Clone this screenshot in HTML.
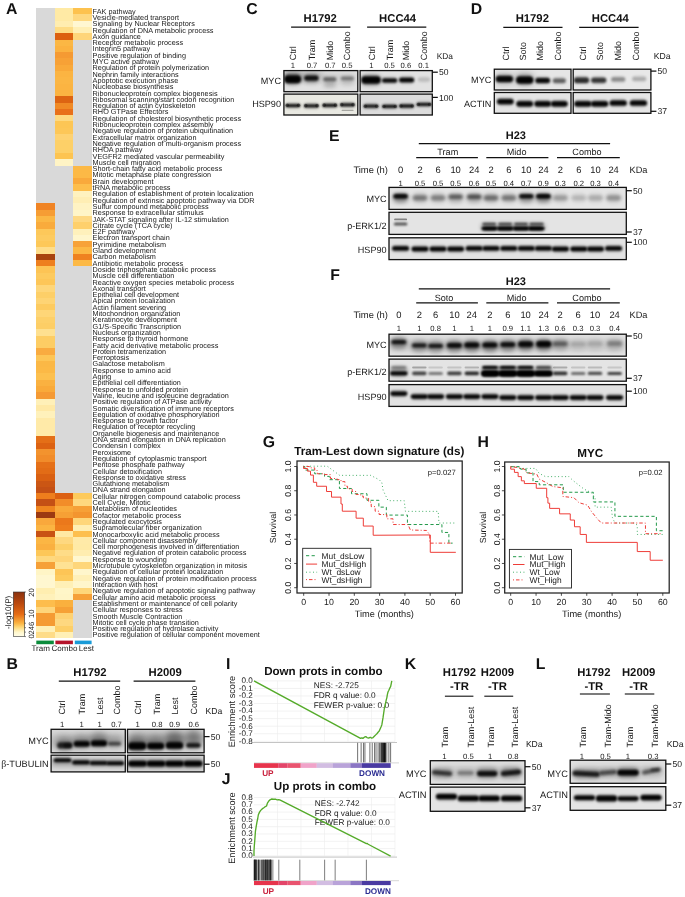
<!DOCTYPE html>
<html><head><meta charset="utf-8"><title>Figure</title>
<style>
html,body{margin:0;padding:0;background:#fff;}
svg{display:block;font-family:'Liberation Sans', Arial, sans-serif;text-rendering:geometricPrecision;}
</style></head>
<body>
<svg width="685" height="897" viewBox="0 0 685 897">
<rect x="0" y="0" width="685" height="897" fill="#ffffff"/>
<g shape-rendering="crispEdges">
<rect x="36.30" y="8.05" width="18.48" height="6.35" fill="#d9d9d9" stroke="none" stroke-width="1"/>
<rect x="54.73" y="8.05" width="18.48" height="6.35" fill="#ffeaa5" stroke="none" stroke-width="1"/>
<rect x="73.17" y="8.05" width="18.48" height="6.35" fill="#fdc24f" stroke="none" stroke-width="1"/>
<rect x="36.30" y="14.35" width="18.48" height="6.35" fill="#d9d9d9" stroke="none" stroke-width="1"/>
<rect x="54.73" y="14.35" width="18.48" height="6.35" fill="#ffeaa5" stroke="none" stroke-width="1"/>
<rect x="73.17" y="14.35" width="18.48" height="6.35" fill="#fed880" stroke="none" stroke-width="1"/>
<rect x="36.30" y="20.65" width="18.48" height="6.35" fill="#d9d9d9" stroke="none" stroke-width="1"/>
<rect x="54.73" y="20.65" width="18.48" height="6.35" fill="#ffedb0" stroke="none" stroke-width="1"/>
<rect x="73.17" y="20.65" width="18.48" height="6.35" fill="#fff7d2" stroke="none" stroke-width="1"/>
<rect x="36.30" y="26.95" width="18.48" height="6.35" fill="#d9d9d9" stroke="none" stroke-width="1"/>
<rect x="54.73" y="26.95" width="18.48" height="6.35" fill="#fedc85" stroke="none" stroke-width="1"/>
<rect x="73.17" y="26.95" width="18.48" height="6.35" fill="#ffefb5" stroke="none" stroke-width="1"/>
<rect x="36.30" y="33.25" width="18.48" height="6.35" fill="#d9d9d9" stroke="none" stroke-width="1"/>
<rect x="54.73" y="33.25" width="18.48" height="6.35" fill="#dc6010" stroke="none" stroke-width="1"/>
<rect x="73.17" y="33.25" width="18.48" height="6.35" fill="#fed57a" stroke="none" stroke-width="1"/>
<rect x="36.30" y="39.55" width="18.48" height="6.35" fill="#d9d9d9" stroke="none" stroke-width="1"/>
<rect x="54.73" y="39.55" width="18.48" height="6.35" fill="#fbb744" stroke="none" stroke-width="1"/>
<rect x="73.17" y="39.55" width="18.48" height="6.35" fill="#d9d9d9" stroke="none" stroke-width="1"/>
<rect x="36.30" y="45.85" width="18.48" height="6.35" fill="#d9d9d9" stroke="none" stroke-width="1"/>
<rect x="54.73" y="45.85" width="18.48" height="6.35" fill="#fbb240" stroke="none" stroke-width="1"/>
<rect x="73.17" y="45.85" width="18.48" height="6.35" fill="#d9d9d9" stroke="none" stroke-width="1"/>
<rect x="36.30" y="52.15" width="18.48" height="6.35" fill="#d9d9d9" stroke="none" stroke-width="1"/>
<rect x="54.73" y="52.15" width="18.48" height="6.35" fill="#f59a33" stroke="none" stroke-width="1"/>
<rect x="73.17" y="52.15" width="18.48" height="6.35" fill="#d9d9d9" stroke="none" stroke-width="1"/>
<rect x="36.30" y="58.45" width="18.48" height="6.35" fill="#d9d9d9" stroke="none" stroke-width="1"/>
<rect x="54.73" y="58.45" width="18.48" height="6.35" fill="#f7a136" stroke="none" stroke-width="1"/>
<rect x="73.17" y="58.45" width="18.48" height="6.35" fill="#d9d9d9" stroke="none" stroke-width="1"/>
<rect x="36.30" y="64.75" width="18.48" height="6.35" fill="#d9d9d9" stroke="none" stroke-width="1"/>
<rect x="54.73" y="64.75" width="18.48" height="6.35" fill="#f9a93a" stroke="none" stroke-width="1"/>
<rect x="73.17" y="64.75" width="18.48" height="6.35" fill="#d9d9d9" stroke="none" stroke-width="1"/>
<rect x="36.30" y="71.06" width="18.48" height="6.35" fill="#d9d9d9" stroke="none" stroke-width="1"/>
<rect x="54.73" y="71.06" width="18.48" height="6.35" fill="#fbb442" stroke="none" stroke-width="1"/>
<rect x="73.17" y="71.06" width="18.48" height="6.35" fill="#d9d9d9" stroke="none" stroke-width="1"/>
<rect x="36.30" y="77.36" width="18.48" height="6.35" fill="#d9d9d9" stroke="none" stroke-width="1"/>
<rect x="54.73" y="77.36" width="18.48" height="6.35" fill="#fbb644" stroke="none" stroke-width="1"/>
<rect x="73.17" y="77.36" width="18.48" height="6.35" fill="#d9d9d9" stroke="none" stroke-width="1"/>
<rect x="36.30" y="83.66" width="18.48" height="6.35" fill="#d9d9d9" stroke="none" stroke-width="1"/>
<rect x="54.73" y="83.66" width="18.48" height="6.35" fill="#fbb442" stroke="none" stroke-width="1"/>
<rect x="73.17" y="83.66" width="18.48" height="6.35" fill="#d9d9d9" stroke="none" stroke-width="1"/>
<rect x="36.30" y="89.96" width="18.48" height="6.35" fill="#d9d9d9" stroke="none" stroke-width="1"/>
<rect x="54.73" y="89.96" width="18.48" height="6.35" fill="#fbb442" stroke="none" stroke-width="1"/>
<rect x="73.17" y="89.96" width="18.48" height="6.35" fill="#d9d9d9" stroke="none" stroke-width="1"/>
<rect x="36.30" y="96.26" width="18.48" height="6.35" fill="#d9d9d9" stroke="none" stroke-width="1"/>
<rect x="54.73" y="96.26" width="18.48" height="6.35" fill="#dd6412" stroke="none" stroke-width="1"/>
<rect x="73.17" y="96.26" width="18.48" height="6.35" fill="#d9d9d9" stroke="none" stroke-width="1"/>
<rect x="36.30" y="102.56" width="18.48" height="6.35" fill="#d9d9d9" stroke="none" stroke-width="1"/>
<rect x="54.73" y="102.56" width="18.48" height="6.35" fill="#f08a25" stroke="none" stroke-width="1"/>
<rect x="73.17" y="102.56" width="18.48" height="6.35" fill="#d9d9d9" stroke="none" stroke-width="1"/>
<rect x="36.30" y="108.86" width="18.48" height="6.35" fill="#d9d9d9" stroke="none" stroke-width="1"/>
<rect x="54.73" y="108.86" width="18.48" height="6.35" fill="#e8701a" stroke="none" stroke-width="1"/>
<rect x="73.17" y="108.86" width="18.48" height="6.35" fill="#d9d9d9" stroke="none" stroke-width="1"/>
<rect x="36.30" y="115.16" width="18.48" height="6.35" fill="#d9d9d9" stroke="none" stroke-width="1"/>
<rect x="54.73" y="115.16" width="18.48" height="6.35" fill="#fed980" stroke="none" stroke-width="1"/>
<rect x="73.17" y="115.16" width="18.48" height="6.35" fill="#d9d9d9" stroke="none" stroke-width="1"/>
<rect x="36.30" y="121.46" width="18.48" height="6.35" fill="#d9d9d9" stroke="none" stroke-width="1"/>
<rect x="54.73" y="121.46" width="18.48" height="6.35" fill="#fdc655" stroke="none" stroke-width="1"/>
<rect x="73.17" y="121.46" width="18.48" height="6.35" fill="#d9d9d9" stroke="none" stroke-width="1"/>
<rect x="36.30" y="127.76" width="18.48" height="6.35" fill="#d9d9d9" stroke="none" stroke-width="1"/>
<rect x="54.73" y="127.76" width="18.48" height="6.35" fill="#fdc758" stroke="none" stroke-width="1"/>
<rect x="73.17" y="127.76" width="18.48" height="6.35" fill="#d9d9d9" stroke="none" stroke-width="1"/>
<rect x="36.30" y="134.06" width="18.48" height="6.35" fill="#d9d9d9" stroke="none" stroke-width="1"/>
<rect x="54.73" y="134.06" width="18.48" height="6.35" fill="#fed272" stroke="none" stroke-width="1"/>
<rect x="73.17" y="134.06" width="18.48" height="6.35" fill="#d9d9d9" stroke="none" stroke-width="1"/>
<rect x="36.30" y="140.36" width="18.48" height="6.35" fill="#d9d9d9" stroke="none" stroke-width="1"/>
<rect x="54.73" y="140.36" width="18.48" height="6.35" fill="#fdd068" stroke="none" stroke-width="1"/>
<rect x="73.17" y="140.36" width="18.48" height="6.35" fill="#d9d9d9" stroke="none" stroke-width="1"/>
<rect x="36.30" y="146.66" width="18.48" height="6.35" fill="#d9d9d9" stroke="none" stroke-width="1"/>
<rect x="54.73" y="146.66" width="18.48" height="6.35" fill="#fdd068" stroke="none" stroke-width="1"/>
<rect x="73.17" y="146.66" width="18.48" height="6.35" fill="#d9d9d9" stroke="none" stroke-width="1"/>
<rect x="36.30" y="152.96" width="18.48" height="6.35" fill="#d9d9d9" stroke="none" stroke-width="1"/>
<rect x="54.73" y="152.96" width="18.48" height="6.35" fill="#fdc451" stroke="none" stroke-width="1"/>
<rect x="73.17" y="152.96" width="18.48" height="6.35" fill="#d9d9d9" stroke="none" stroke-width="1"/>
<rect x="36.30" y="159.26" width="18.48" height="6.35" fill="#d9d9d9" stroke="none" stroke-width="1"/>
<rect x="54.73" y="159.26" width="18.48" height="6.35" fill="#fff4c5" stroke="none" stroke-width="1"/>
<rect x="73.17" y="159.26" width="18.48" height="6.35" fill="#d9d9d9" stroke="none" stroke-width="1"/>
<rect x="36.30" y="165.56" width="18.48" height="6.35" fill="#d9d9d9" stroke="none" stroke-width="1"/>
<rect x="54.73" y="165.56" width="18.48" height="6.35" fill="#d9d9d9" stroke="none" stroke-width="1"/>
<rect x="73.17" y="165.56" width="18.48" height="6.35" fill="#fcb946" stroke="none" stroke-width="1"/>
<rect x="36.30" y="171.86" width="18.48" height="6.35" fill="#d9d9d9" stroke="none" stroke-width="1"/>
<rect x="54.73" y="171.86" width="18.48" height="6.35" fill="#d9d9d9" stroke="none" stroke-width="1"/>
<rect x="73.17" y="171.86" width="18.48" height="6.35" fill="#fcb946" stroke="none" stroke-width="1"/>
<rect x="36.30" y="178.16" width="18.48" height="6.35" fill="#d9d9d9" stroke="none" stroke-width="1"/>
<rect x="54.73" y="178.16" width="18.48" height="6.35" fill="#d9d9d9" stroke="none" stroke-width="1"/>
<rect x="73.17" y="178.16" width="18.48" height="6.35" fill="#f9a93c" stroke="none" stroke-width="1"/>
<rect x="36.30" y="184.46" width="18.48" height="6.35" fill="#d9d9d9" stroke="none" stroke-width="1"/>
<rect x="54.73" y="184.46" width="18.48" height="6.35" fill="#d9d9d9" stroke="none" stroke-width="1"/>
<rect x="73.17" y="184.46" width="18.48" height="6.35" fill="#fdbe4c" stroke="none" stroke-width="1"/>
<rect x="36.30" y="190.76" width="18.48" height="6.35" fill="#d9d9d9" stroke="none" stroke-width="1"/>
<rect x="54.73" y="190.76" width="18.48" height="6.35" fill="#d9d9d9" stroke="none" stroke-width="1"/>
<rect x="73.17" y="190.76" width="18.48" height="6.35" fill="#fff2bf" stroke="none" stroke-width="1"/>
<rect x="36.30" y="197.07" width="18.48" height="6.35" fill="#d9d9d9" stroke="none" stroke-width="1"/>
<rect x="54.73" y="197.07" width="18.48" height="6.35" fill="#d9d9d9" stroke="none" stroke-width="1"/>
<rect x="73.17" y="197.07" width="18.48" height="6.35" fill="#ffeeb4" stroke="none" stroke-width="1"/>
<rect x="36.30" y="203.37" width="18.48" height="6.35" fill="#f08424" stroke="none" stroke-width="1"/>
<rect x="54.73" y="203.37" width="18.48" height="6.35" fill="#d9d9d9" stroke="none" stroke-width="1"/>
<rect x="73.17" y="203.37" width="18.48" height="6.35" fill="#fff3c3" stroke="none" stroke-width="1"/>
<rect x="36.30" y="209.67" width="18.48" height="6.35" fill="#f69d34" stroke="none" stroke-width="1"/>
<rect x="54.73" y="209.67" width="18.48" height="6.35" fill="#d9d9d9" stroke="none" stroke-width="1"/>
<rect x="73.17" y="209.67" width="18.48" height="6.35" fill="#fff5c8" stroke="none" stroke-width="1"/>
<rect x="36.30" y="215.97" width="18.48" height="6.35" fill="#fbb744" stroke="none" stroke-width="1"/>
<rect x="54.73" y="215.97" width="18.48" height="6.35" fill="#d9d9d9" stroke="none" stroke-width="1"/>
<rect x="73.17" y="215.97" width="18.48" height="6.35" fill="#fed984" stroke="none" stroke-width="1"/>
<rect x="36.30" y="222.27" width="18.48" height="6.35" fill="#f9ab3c" stroke="none" stroke-width="1"/>
<rect x="54.73" y="222.27" width="18.48" height="6.35" fill="#d9d9d9" stroke="none" stroke-width="1"/>
<rect x="73.17" y="222.27" width="18.48" height="6.35" fill="#fed06c" stroke="none" stroke-width="1"/>
<rect x="36.30" y="228.57" width="18.48" height="6.35" fill="#fdc85a" stroke="none" stroke-width="1"/>
<rect x="54.73" y="228.57" width="18.48" height="6.35" fill="#d9d9d9" stroke="none" stroke-width="1"/>
<rect x="73.17" y="228.57" width="18.48" height="6.35" fill="#fff1bc" stroke="none" stroke-width="1"/>
<rect x="36.30" y="234.87" width="18.48" height="6.35" fill="#fdcb60" stroke="none" stroke-width="1"/>
<rect x="54.73" y="234.87" width="18.48" height="6.35" fill="#d9d9d9" stroke="none" stroke-width="1"/>
<rect x="73.17" y="234.87" width="18.48" height="6.35" fill="#fff6cc" stroke="none" stroke-width="1"/>
<rect x="36.30" y="241.17" width="18.48" height="6.35" fill="#fdc858" stroke="none" stroke-width="1"/>
<rect x="54.73" y="241.17" width="18.48" height="6.35" fill="#d9d9d9" stroke="none" stroke-width="1"/>
<rect x="73.17" y="241.17" width="18.48" height="6.35" fill="#f7a238" stroke="none" stroke-width="1"/>
<rect x="36.30" y="247.47" width="18.48" height="6.35" fill="#fedd8a" stroke="none" stroke-width="1"/>
<rect x="54.73" y="247.47" width="18.48" height="6.35" fill="#d9d9d9" stroke="none" stroke-width="1"/>
<rect x="73.17" y="247.47" width="18.48" height="6.35" fill="#fcb844" stroke="none" stroke-width="1"/>
<rect x="36.30" y="253.77" width="18.48" height="6.35" fill="#a8430f" stroke="none" stroke-width="1"/>
<rect x="54.73" y="253.77" width="18.48" height="6.35" fill="#d9d9d9" stroke="none" stroke-width="1"/>
<rect x="73.17" y="253.77" width="18.48" height="6.35" fill="#ef8220" stroke="none" stroke-width="1"/>
<rect x="36.30" y="260.07" width="18.48" height="6.35" fill="#ee7f1e" stroke="none" stroke-width="1"/>
<rect x="54.73" y="260.07" width="18.48" height="6.35" fill="#d9d9d9" stroke="none" stroke-width="1"/>
<rect x="73.17" y="260.07" width="18.48" height="6.35" fill="#fcb946" stroke="none" stroke-width="1"/>
<rect x="36.30" y="266.37" width="18.48" height="6.35" fill="#fdc455" stroke="none" stroke-width="1"/>
<rect x="54.73" y="266.37" width="18.48" height="6.35" fill="#d9d9d9" stroke="none" stroke-width="1"/>
<rect x="73.17" y="266.37" width="18.48" height="6.35" fill="#d9d9d9" stroke="none" stroke-width="1"/>
<rect x="36.30" y="272.67" width="18.48" height="6.35" fill="#fdca5e" stroke="none" stroke-width="1"/>
<rect x="54.73" y="272.67" width="18.48" height="6.35" fill="#d9d9d9" stroke="none" stroke-width="1"/>
<rect x="73.17" y="272.67" width="18.48" height="6.35" fill="#d9d9d9" stroke="none" stroke-width="1"/>
<rect x="36.30" y="278.97" width="18.48" height="6.35" fill="#fdc658" stroke="none" stroke-width="1"/>
<rect x="54.73" y="278.97" width="18.48" height="6.35" fill="#d9d9d9" stroke="none" stroke-width="1"/>
<rect x="73.17" y="278.97" width="18.48" height="6.35" fill="#d9d9d9" stroke="none" stroke-width="1"/>
<rect x="36.30" y="285.27" width="18.48" height="6.35" fill="#fed67a" stroke="none" stroke-width="1"/>
<rect x="54.73" y="285.27" width="18.48" height="6.35" fill="#d9d9d9" stroke="none" stroke-width="1"/>
<rect x="73.17" y="285.27" width="18.48" height="6.35" fill="#d9d9d9" stroke="none" stroke-width="1"/>
<rect x="36.30" y="291.57" width="18.48" height="6.35" fill="#fdcf68" stroke="none" stroke-width="1"/>
<rect x="54.73" y="291.57" width="18.48" height="6.35" fill="#d9d9d9" stroke="none" stroke-width="1"/>
<rect x="73.17" y="291.57" width="18.48" height="6.35" fill="#d9d9d9" stroke="none" stroke-width="1"/>
<rect x="36.30" y="297.87" width="18.48" height="6.35" fill="#fed474" stroke="none" stroke-width="1"/>
<rect x="54.73" y="297.87" width="18.48" height="6.35" fill="#d9d9d9" stroke="none" stroke-width="1"/>
<rect x="73.17" y="297.87" width="18.48" height="6.35" fill="#d9d9d9" stroke="none" stroke-width="1"/>
<rect x="36.30" y="304.17" width="18.48" height="6.35" fill="#fdcb60" stroke="none" stroke-width="1"/>
<rect x="54.73" y="304.17" width="18.48" height="6.35" fill="#d9d9d9" stroke="none" stroke-width="1"/>
<rect x="73.17" y="304.17" width="18.48" height="6.35" fill="#d9d9d9" stroke="none" stroke-width="1"/>
<rect x="36.30" y="310.47" width="18.48" height="6.35" fill="#fed678" stroke="none" stroke-width="1"/>
<rect x="54.73" y="310.47" width="18.48" height="6.35" fill="#d9d9d9" stroke="none" stroke-width="1"/>
<rect x="73.17" y="310.47" width="18.48" height="6.35" fill="#d9d9d9" stroke="none" stroke-width="1"/>
<rect x="36.30" y="316.77" width="18.48" height="6.35" fill="#fdd06a" stroke="none" stroke-width="1"/>
<rect x="54.73" y="316.77" width="18.48" height="6.35" fill="#d9d9d9" stroke="none" stroke-width="1"/>
<rect x="73.17" y="316.77" width="18.48" height="6.35" fill="#d9d9d9" stroke="none" stroke-width="1"/>
<rect x="36.30" y="323.08" width="18.48" height="6.35" fill="#fdce66" stroke="none" stroke-width="1"/>
<rect x="54.73" y="323.08" width="18.48" height="6.35" fill="#d9d9d9" stroke="none" stroke-width="1"/>
<rect x="73.17" y="323.08" width="18.48" height="6.35" fill="#d9d9d9" stroke="none" stroke-width="1"/>
<rect x="36.30" y="329.38" width="18.48" height="6.35" fill="#fee090" stroke="none" stroke-width="1"/>
<rect x="54.73" y="329.38" width="18.48" height="6.35" fill="#d9d9d9" stroke="none" stroke-width="1"/>
<rect x="73.17" y="329.38" width="18.48" height="6.35" fill="#d9d9d9" stroke="none" stroke-width="1"/>
<rect x="36.30" y="335.68" width="18.48" height="6.35" fill="#fdcd64" stroke="none" stroke-width="1"/>
<rect x="54.73" y="335.68" width="18.48" height="6.35" fill="#d9d9d9" stroke="none" stroke-width="1"/>
<rect x="73.17" y="335.68" width="18.48" height="6.35" fill="#d9d9d9" stroke="none" stroke-width="1"/>
<rect x="36.30" y="341.98" width="18.48" height="6.35" fill="#fdcd64" stroke="none" stroke-width="1"/>
<rect x="54.73" y="341.98" width="18.48" height="6.35" fill="#d9d9d9" stroke="none" stroke-width="1"/>
<rect x="73.17" y="341.98" width="18.48" height="6.35" fill="#d9d9d9" stroke="none" stroke-width="1"/>
<rect x="36.30" y="348.28" width="18.48" height="6.35" fill="#f9ab40" stroke="none" stroke-width="1"/>
<rect x="54.73" y="348.28" width="18.48" height="6.35" fill="#d9d9d9" stroke="none" stroke-width="1"/>
<rect x="73.17" y="348.28" width="18.48" height="6.35" fill="#d9d9d9" stroke="none" stroke-width="1"/>
<rect x="36.30" y="354.58" width="18.48" height="6.35" fill="#fdc556" stroke="none" stroke-width="1"/>
<rect x="54.73" y="354.58" width="18.48" height="6.35" fill="#d9d9d9" stroke="none" stroke-width="1"/>
<rect x="73.17" y="354.58" width="18.48" height="6.35" fill="#d9d9d9" stroke="none" stroke-width="1"/>
<rect x="36.30" y="360.88" width="18.48" height="6.35" fill="#fbb846" stroke="none" stroke-width="1"/>
<rect x="54.73" y="360.88" width="18.48" height="6.35" fill="#d9d9d9" stroke="none" stroke-width="1"/>
<rect x="73.17" y="360.88" width="18.48" height="6.35" fill="#d9d9d9" stroke="none" stroke-width="1"/>
<rect x="36.30" y="367.18" width="18.48" height="6.35" fill="#fcb946" stroke="none" stroke-width="1"/>
<rect x="54.73" y="367.18" width="18.48" height="6.35" fill="#d9d9d9" stroke="none" stroke-width="1"/>
<rect x="73.17" y="367.18" width="18.48" height="6.35" fill="#d9d9d9" stroke="none" stroke-width="1"/>
<rect x="36.30" y="373.48" width="18.48" height="6.35" fill="#fdc04e" stroke="none" stroke-width="1"/>
<rect x="54.73" y="373.48" width="18.48" height="6.35" fill="#d9d9d9" stroke="none" stroke-width="1"/>
<rect x="73.17" y="373.48" width="18.48" height="6.35" fill="#d9d9d9" stroke="none" stroke-width="1"/>
<rect x="36.30" y="379.78" width="18.48" height="6.35" fill="#fab140" stroke="none" stroke-width="1"/>
<rect x="54.73" y="379.78" width="18.48" height="6.35" fill="#d9d9d9" stroke="none" stroke-width="1"/>
<rect x="73.17" y="379.78" width="18.48" height="6.35" fill="#d9d9d9" stroke="none" stroke-width="1"/>
<rect x="36.30" y="386.08" width="18.48" height="6.35" fill="#f9aa3a" stroke="none" stroke-width="1"/>
<rect x="54.73" y="386.08" width="18.48" height="6.35" fill="#d9d9d9" stroke="none" stroke-width="1"/>
<rect x="73.17" y="386.08" width="18.48" height="6.35" fill="#d9d9d9" stroke="none" stroke-width="1"/>
<rect x="36.30" y="392.38" width="18.48" height="6.35" fill="#f59a34" stroke="none" stroke-width="1"/>
<rect x="54.73" y="392.38" width="18.48" height="6.35" fill="#d9d9d9" stroke="none" stroke-width="1"/>
<rect x="73.17" y="392.38" width="18.48" height="6.35" fill="#d9d9d9" stroke="none" stroke-width="1"/>
<rect x="36.30" y="398.68" width="18.48" height="6.35" fill="#fff0b8" stroke="none" stroke-width="1"/>
<rect x="54.73" y="398.68" width="18.48" height="6.35" fill="#d9d9d9" stroke="none" stroke-width="1"/>
<rect x="73.17" y="398.68" width="18.48" height="6.35" fill="#d9d9d9" stroke="none" stroke-width="1"/>
<rect x="36.30" y="404.98" width="18.48" height="6.35" fill="#ffe9a6" stroke="none" stroke-width="1"/>
<rect x="54.73" y="404.98" width="18.48" height="6.35" fill="#d9d9d9" stroke="none" stroke-width="1"/>
<rect x="73.17" y="404.98" width="18.48" height="6.35" fill="#d9d9d9" stroke="none" stroke-width="1"/>
<rect x="36.30" y="411.28" width="18.48" height="6.35" fill="#fff1bb" stroke="none" stroke-width="1"/>
<rect x="54.73" y="411.28" width="18.48" height="6.35" fill="#d9d9d9" stroke="none" stroke-width="1"/>
<rect x="73.17" y="411.28" width="18.48" height="6.35" fill="#d9d9d9" stroke="none" stroke-width="1"/>
<rect x="36.30" y="417.58" width="18.48" height="6.35" fill="#ffeaa8" stroke="none" stroke-width="1"/>
<rect x="54.73" y="417.58" width="18.48" height="6.35" fill="#d9d9d9" stroke="none" stroke-width="1"/>
<rect x="73.17" y="417.58" width="18.48" height="6.35" fill="#d9d9d9" stroke="none" stroke-width="1"/>
<rect x="36.30" y="423.88" width="18.48" height="6.35" fill="#ffeaa8" stroke="none" stroke-width="1"/>
<rect x="54.73" y="423.88" width="18.48" height="6.35" fill="#d9d9d9" stroke="none" stroke-width="1"/>
<rect x="73.17" y="423.88" width="18.48" height="6.35" fill="#d9d9d9" stroke="none" stroke-width="1"/>
<rect x="36.30" y="430.18" width="18.48" height="6.35" fill="#ffeaa8" stroke="none" stroke-width="1"/>
<rect x="54.73" y="430.18" width="18.48" height="6.35" fill="#d9d9d9" stroke="none" stroke-width="1"/>
<rect x="73.17" y="430.18" width="18.48" height="6.35" fill="#d9d9d9" stroke="none" stroke-width="1"/>
<rect x="36.30" y="436.48" width="18.48" height="6.35" fill="#e46f17" stroke="none" stroke-width="1"/>
<rect x="54.73" y="436.48" width="18.48" height="6.35" fill="#d9d9d9" stroke="none" stroke-width="1"/>
<rect x="73.17" y="436.48" width="18.48" height="6.35" fill="#d9d9d9" stroke="none" stroke-width="1"/>
<rect x="36.30" y="442.78" width="18.48" height="6.35" fill="#dc6212" stroke="none" stroke-width="1"/>
<rect x="54.73" y="442.78" width="18.48" height="6.35" fill="#d9d9d9" stroke="none" stroke-width="1"/>
<rect x="73.17" y="442.78" width="18.48" height="6.35" fill="#d9d9d9" stroke="none" stroke-width="1"/>
<rect x="36.30" y="449.09" width="18.48" height="6.35" fill="#f3932e" stroke="none" stroke-width="1"/>
<rect x="54.73" y="449.09" width="18.48" height="6.35" fill="#d9d9d9" stroke="none" stroke-width="1"/>
<rect x="73.17" y="449.09" width="18.48" height="6.35" fill="#d9d9d9" stroke="none" stroke-width="1"/>
<rect x="36.30" y="455.39" width="18.48" height="6.35" fill="#f18c2a" stroke="none" stroke-width="1"/>
<rect x="54.73" y="455.39" width="18.48" height="6.35" fill="#d9d9d9" stroke="none" stroke-width="1"/>
<rect x="73.17" y="455.39" width="18.48" height="6.35" fill="#d9d9d9" stroke="none" stroke-width="1"/>
<rect x="36.30" y="461.69" width="18.48" height="6.35" fill="#e57018" stroke="none" stroke-width="1"/>
<rect x="54.73" y="461.69" width="18.48" height="6.35" fill="#d9d9d9" stroke="none" stroke-width="1"/>
<rect x="73.17" y="461.69" width="18.48" height="6.35" fill="#d9d9d9" stroke="none" stroke-width="1"/>
<rect x="36.30" y="467.99" width="18.48" height="6.35" fill="#e26c16" stroke="none" stroke-width="1"/>
<rect x="54.73" y="467.99" width="18.48" height="6.35" fill="#d9d9d9" stroke="none" stroke-width="1"/>
<rect x="73.17" y="467.99" width="18.48" height="6.35" fill="#d9d9d9" stroke="none" stroke-width="1"/>
<rect x="36.30" y="474.29" width="18.48" height="6.35" fill="#d96012" stroke="none" stroke-width="1"/>
<rect x="54.73" y="474.29" width="18.48" height="6.35" fill="#d9d9d9" stroke="none" stroke-width="1"/>
<rect x="73.17" y="474.29" width="18.48" height="6.35" fill="#d9d9d9" stroke="none" stroke-width="1"/>
<rect x="36.30" y="480.59" width="18.48" height="6.35" fill="#cb5614" stroke="none" stroke-width="1"/>
<rect x="54.73" y="480.59" width="18.48" height="6.35" fill="#d9d9d9" stroke="none" stroke-width="1"/>
<rect x="73.17" y="480.59" width="18.48" height="6.35" fill="#d9d9d9" stroke="none" stroke-width="1"/>
<rect x="36.30" y="486.89" width="18.48" height="6.35" fill="#c45015" stroke="none" stroke-width="1"/>
<rect x="54.73" y="486.89" width="18.48" height="6.35" fill="#d9d9d9" stroke="none" stroke-width="1"/>
<rect x="73.17" y="486.89" width="18.48" height="6.35" fill="#d9d9d9" stroke="none" stroke-width="1"/>
<rect x="36.30" y="493.19" width="18.48" height="6.35" fill="#ee7e1d" stroke="none" stroke-width="1"/>
<rect x="54.73" y="493.19" width="18.48" height="6.35" fill="#dc6012" stroke="none" stroke-width="1"/>
<rect x="73.17" y="493.19" width="18.48" height="6.35" fill="#fdca5c" stroke="none" stroke-width="1"/>
<rect x="36.30" y="499.49" width="18.48" height="6.35" fill="#c45015" stroke="none" stroke-width="1"/>
<rect x="54.73" y="499.49" width="18.48" height="6.35" fill="#f28d29" stroke="none" stroke-width="1"/>
<rect x="73.17" y="499.49" width="18.48" height="6.35" fill="#fed87f" stroke="none" stroke-width="1"/>
<rect x="36.30" y="505.79" width="18.48" height="6.35" fill="#ef851f" stroke="none" stroke-width="1"/>
<rect x="54.73" y="505.79" width="18.48" height="6.35" fill="#f9a93a" stroke="none" stroke-width="1"/>
<rect x="73.17" y="505.79" width="18.48" height="6.35" fill="#f6a037" stroke="none" stroke-width="1"/>
<rect x="36.30" y="512.09" width="18.48" height="6.35" fill="#9c3a12" stroke="none" stroke-width="1"/>
<rect x="54.73" y="512.09" width="18.48" height="6.35" fill="#f6a035" stroke="none" stroke-width="1"/>
<rect x="73.17" y="512.09" width="18.48" height="6.35" fill="#f3952f" stroke="none" stroke-width="1"/>
<rect x="36.30" y="518.39" width="18.48" height="6.35" fill="#f9a83c" stroke="none" stroke-width="1"/>
<rect x="54.73" y="518.39" width="18.48" height="6.35" fill="#eb781b" stroke="none" stroke-width="1"/>
<rect x="73.17" y="518.39" width="18.48" height="6.35" fill="#fed67a" stroke="none" stroke-width="1"/>
<rect x="36.30" y="524.69" width="18.48" height="6.35" fill="#fbb442" stroke="none" stroke-width="1"/>
<rect x="54.73" y="524.69" width="18.48" height="6.35" fill="#ee7e1d" stroke="none" stroke-width="1"/>
<rect x="73.17" y="524.69" width="18.48" height="6.35" fill="#ffeeb2" stroke="none" stroke-width="1"/>
<rect x="36.30" y="530.99" width="18.48" height="6.35" fill="#c85214" stroke="none" stroke-width="1"/>
<rect x="54.73" y="530.99" width="18.48" height="6.35" fill="#ffe9a4" stroke="none" stroke-width="1"/>
<rect x="73.17" y="530.99" width="18.48" height="6.35" fill="#fdbf4e" stroke="none" stroke-width="1"/>
<rect x="36.30" y="537.29" width="18.48" height="6.35" fill="#fbb644" stroke="none" stroke-width="1"/>
<rect x="54.73" y="537.29" width="18.48" height="6.35" fill="#fed880" stroke="none" stroke-width="1"/>
<rect x="73.17" y="537.29" width="18.48" height="6.35" fill="#ffeaa8" stroke="none" stroke-width="1"/>
<rect x="36.30" y="543.59" width="18.48" height="6.35" fill="#fab040" stroke="none" stroke-width="1"/>
<rect x="54.73" y="543.59" width="18.48" height="6.35" fill="#fdd06a" stroke="none" stroke-width="1"/>
<rect x="73.17" y="543.59" width="18.48" height="6.35" fill="#ffeaa6" stroke="none" stroke-width="1"/>
<rect x="36.30" y="549.89" width="18.48" height="6.35" fill="#fdc758" stroke="none" stroke-width="1"/>
<rect x="54.73" y="549.89" width="18.48" height="6.35" fill="#fedc88" stroke="none" stroke-width="1"/>
<rect x="73.17" y="549.89" width="18.48" height="6.35" fill="#ffedb0" stroke="none" stroke-width="1"/>
<rect x="36.30" y="556.19" width="18.48" height="6.35" fill="#fed87e" stroke="none" stroke-width="1"/>
<rect x="54.73" y="556.19" width="18.48" height="6.35" fill="#fed57a" stroke="none" stroke-width="1"/>
<rect x="73.17" y="556.19" width="18.48" height="6.35" fill="#fff7d0" stroke="none" stroke-width="1"/>
<rect x="36.30" y="562.49" width="18.48" height="6.35" fill="#f6a038" stroke="none" stroke-width="1"/>
<rect x="54.73" y="562.49" width="18.48" height="6.35" fill="#fee294" stroke="none" stroke-width="1"/>
<rect x="73.17" y="562.49" width="18.48" height="6.35" fill="#fed67a" stroke="none" stroke-width="1"/>
<rect x="36.30" y="568.79" width="18.48" height="6.35" fill="#fff5c6" stroke="none" stroke-width="1"/>
<rect x="54.73" y="568.79" width="18.48" height="6.35" fill="#fdc556" stroke="none" stroke-width="1"/>
<rect x="73.17" y="568.79" width="18.48" height="6.35" fill="#fff6cc" stroke="none" stroke-width="1"/>
<rect x="36.30" y="575.10" width="18.48" height="6.35" fill="#fff7d0" stroke="none" stroke-width="1"/>
<rect x="54.73" y="575.10" width="18.48" height="6.35" fill="#fdcb5e" stroke="none" stroke-width="1"/>
<rect x="73.17" y="575.10" width="18.48" height="6.35" fill="#fff0b8" stroke="none" stroke-width="1"/>
<rect x="36.30" y="581.40" width="18.48" height="6.35" fill="#fff7d0" stroke="none" stroke-width="1"/>
<rect x="54.73" y="581.40" width="18.48" height="6.35" fill="#fff0b6" stroke="none" stroke-width="1"/>
<rect x="73.17" y="581.40" width="18.48" height="6.35" fill="#fff6cc" stroke="none" stroke-width="1"/>
<rect x="36.30" y="587.70" width="18.48" height="6.35" fill="#ffeeb0" stroke="none" stroke-width="1"/>
<rect x="54.73" y="587.70" width="18.48" height="6.35" fill="#fff6c8" stroke="none" stroke-width="1"/>
<rect x="73.17" y="587.70" width="18.48" height="6.35" fill="#fed67a" stroke="none" stroke-width="1"/>
<rect x="36.30" y="594.00" width="18.48" height="6.35" fill="#fff1ba" stroke="none" stroke-width="1"/>
<rect x="54.73" y="594.00" width="18.48" height="6.35" fill="#fff5c6" stroke="none" stroke-width="1"/>
<rect x="73.17" y="594.00" width="18.48" height="6.35" fill="#f6a038" stroke="none" stroke-width="1"/>
<rect x="36.30" y="600.30" width="18.48" height="6.35" fill="#fdbd4c" stroke="none" stroke-width="1"/>
<rect x="54.73" y="600.30" width="18.48" height="6.35" fill="#fab03e" stroke="none" stroke-width="1"/>
<rect x="73.17" y="600.30" width="18.48" height="6.35" fill="#d9d9d9" stroke="none" stroke-width="1"/>
<rect x="36.30" y="606.60" width="18.48" height="6.35" fill="#fed57a" stroke="none" stroke-width="1"/>
<rect x="54.73" y="606.60" width="18.48" height="6.35" fill="#f6a136" stroke="none" stroke-width="1"/>
<rect x="73.17" y="606.60" width="18.48" height="6.35" fill="#d9d9d9" stroke="none" stroke-width="1"/>
<rect x="36.30" y="612.90" width="18.48" height="6.35" fill="#f59b33" stroke="none" stroke-width="1"/>
<rect x="54.73" y="612.90" width="18.48" height="6.35" fill="#fed272" stroke="none" stroke-width="1"/>
<rect x="73.17" y="612.90" width="18.48" height="6.35" fill="#d9d9d9" stroke="none" stroke-width="1"/>
<rect x="36.30" y="619.20" width="18.48" height="6.35" fill="#f59b33" stroke="none" stroke-width="1"/>
<rect x="54.73" y="619.20" width="18.48" height="6.35" fill="#fed880" stroke="none" stroke-width="1"/>
<rect x="73.17" y="619.20" width="18.48" height="6.35" fill="#d9d9d9" stroke="none" stroke-width="1"/>
<rect x="36.30" y="625.50" width="18.48" height="6.35" fill="#fff0b6" stroke="none" stroke-width="1"/>
<rect x="54.73" y="625.50" width="18.48" height="6.35" fill="#fdcf68" stroke="none" stroke-width="1"/>
<rect x="73.17" y="625.50" width="18.48" height="6.35" fill="#d9d9d9" stroke="none" stroke-width="1"/>
<rect x="36.30" y="631.80" width="18.48" height="6.35" fill="#fedc88" stroke="none" stroke-width="1"/>
<rect x="54.73" y="631.80" width="18.48" height="6.35" fill="#fff0b6" stroke="none" stroke-width="1"/>
<rect x="73.17" y="631.80" width="18.48" height="6.35" fill="#d9d9d9" stroke="none" stroke-width="1"/>
</g>
<g font-size="73" fill="#1a1a1a" transform="scale(0.1)">
<text x="926" y="136.5">FAK pathway</text>
<text x="926" y="199.5">Vesicle-mediated transport</text>
<text x="926" y="262.5">Signaling by Nuclear Receptors</text>
<text x="926" y="325.5">Regulation of DNA metabolic process</text>
<text x="926" y="388.5">Axon guidance</text>
<text x="926" y="451.5">Receptor metabolic process</text>
<text x="926" y="514.5">Integrin5 pathway</text>
<text x="926" y="577.5">Positive regulation of binding</text>
<text x="926" y="640.5">MYC active pathway</text>
<text x="926" y="703.5">Regulation of protein polymerization</text>
<text x="926" y="766.6">Nephrin family interactions</text>
<text x="926" y="829.6">Apoptotic execution phase</text>
<text x="926" y="892.6">Nucleobase biosynthesis</text>
<text x="926" y="955.6">Ribonucleoprotein complex biogenesis</text>
<text x="926" y="1018.6">Ribosomal scanning/start codon recognition</text>
<text x="926" y="1081.6">Regulation of actin cytoskeleton</text>
<text x="926" y="1144.6">RHO GTPase Effectors</text>
<text x="926" y="1207.6">Regulation of cholesterol biosynthetic process</text>
<text x="926" y="1270.6">Ribonucleoprotein complex assembly</text>
<text x="926" y="1333.6">Negative regulation of protein ubiquitination</text>
<text x="926" y="1396.6">Extracellular matrix organization</text>
<text x="926" y="1459.6">Negative regulation of multi-organism process</text>
<text x="926" y="1522.6">RHOA pathway</text>
<text x="926" y="1585.6">VEGFR2 mediated vascular permeability</text>
<text x="926" y="1648.6">Muscle cell migration</text>
<text x="926" y="1711.6">Short-chain fatty acid metabolic process</text>
<text x="926" y="1774.6">Mitotic metaphase plate congression</text>
<text x="926" y="1837.6">Brain development</text>
<text x="926" y="1900.6">tRNA metabolic process</text>
<text x="926" y="1963.6">Regulation of establishment of protein localization</text>
<text x="926" y="2026.7">Regulation of extrinsic apoptotic pathway via DDR</text>
<text x="926" y="2089.7">Sulfur compound metabolic process</text>
<text x="926" y="2152.7">Response to extracellular stimulus</text>
<text x="926" y="2215.7">JAK-STAT signaling after IL-12 stimulation</text>
<text x="926" y="2278.7">Citrate cycle (TCA cycle)</text>
<text x="926" y="2341.7">E2F pathway</text>
<text x="926" y="2404.7">Electron transport chain</text>
<text x="926" y="2467.7">Pyrimidine metabolism</text>
<text x="926" y="2530.7">Gland development</text>
<text x="926" y="2593.7">Carbon metabolism</text>
<text x="926" y="2656.7">Antibiotic metabolic process</text>
<text x="926" y="2719.7">Doside triphosphate catabolic process</text>
<text x="926" y="2782.7">Muscle cell differentiation</text>
<text x="926" y="2845.7">Reactive oxygen species metabolic process</text>
<text x="926" y="2908.7">Axonal transport</text>
<text x="926" y="2971.7">Epithelial cell development</text>
<text x="926" y="3034.7">Apical protein localization</text>
<text x="926" y="3097.7">Actin filament severing</text>
<text x="926" y="3160.7">Mitochondrion organization</text>
<text x="926" y="3223.7">Keratinocyte development</text>
<text x="926" y="3286.8">G1/S-Specific Transcription</text>
<text x="926" y="3349.8">Nucleus organization</text>
<text x="926" y="3412.8">Response to thyroid hormone</text>
<text x="926" y="3475.8">Fatty acid derivative metabolic process</text>
<text x="926" y="3538.8">Protein tetramerization</text>
<text x="926" y="3601.8">Ferroptosis</text>
<text x="926" y="3664.8">Galactose metabolism</text>
<text x="926" y="3727.8">Response to amino acid</text>
<text x="926" y="3790.8">Aging</text>
<text x="926" y="3853.8">Epithelial cell differentiation</text>
<text x="926" y="3916.8">Response to unfolded protein</text>
<text x="926" y="3979.8">Valine, leucine and isoleucine degradation</text>
<text x="926" y="4042.8">Positive regulation of ATPase activity</text>
<text x="926" y="4105.8">Somatic diversification of immune receptors</text>
<text x="926" y="4168.8">Eegulation of oxidative phosphorylation</text>
<text x="926" y="4231.8">Response to growth factor</text>
<text x="926" y="4294.8">Regulation of receptor recycling</text>
<text x="926" y="4357.8">Organelle biogenesis and maintenance</text>
<text x="926" y="4420.8">DNA strand elongation in DNA replication</text>
<text x="926" y="4483.8">Condensin I complex</text>
<text x="926" y="4546.9">Peroxisome</text>
<text x="926" y="4609.9">Regulation of cytoplasmic transport</text>
<text x="926" y="4672.9">Pentose phosphate pathway</text>
<text x="926" y="4735.9">Cellular detoxification</text>
<text x="926" y="4798.9">Response to oxidative stress</text>
<text x="926" y="4861.9">Glutathione metabolism</text>
<text x="926" y="4924.9">DNA strand elongation</text>
<text x="926" y="4987.9">Cellular nitrogen compound catabolic process</text>
<text x="926" y="5050.9">Cell Cycle, Mitotic</text>
<text x="926" y="5113.9">Metabolism of nucleotides</text>
<text x="926" y="5176.9">Cofactor metabolic process</text>
<text x="926" y="5239.9">Regulated exocytosis</text>
<text x="926" y="5302.9">Supramolecular fiber organization</text>
<text x="926" y="5365.9">Monocarboxylic acid metabolic process</text>
<text x="926" y="5428.9">Cellular component disassembly</text>
<text x="926" y="5491.9">Cell morphogenesis involved in differentiation</text>
<text x="926" y="5554.9">Negative regulation of protein catabolic process</text>
<text x="926" y="5617.9">Response to wounding</text>
<text x="926" y="5680.9">Microtubule cytoskeleton organization in mitosis</text>
<text x="926" y="5743.9">Regulation of cellular protein localization</text>
<text x="926" y="5807.0">Negative regulation of protein modification process</text>
<text x="926" y="5870.0">Interaction with host</text>
<text x="926" y="5933.0">Negative regulation of apoptotic signaling pathway</text>
<text x="926" y="5996.0">Cellular amino acid metabolic process</text>
<text x="926" y="6059.0">Establishment or maintenance of cell polarity</text>
<text x="926" y="6122.0">Cellular responses to stress</text>
<text x="926" y="6185.0">Smooth Muscle Contraction</text>
<text x="926" y="6248.0">Mitotic cell cycle phase transition</text>
<text x="926" y="6311.0">Positive regulation of hydrolase activity</text>
<text x="926" y="6374.0">Positive regulation of cellular component movement</text>
</g>
<rect x="36.30" y="640.60" width="17.50" height="3.60" fill="#0b8c3c" stroke="none" stroke-width="1"/>
<rect x="55.40" y="640.60" width="17.50" height="3.60" fill="#b5132b" stroke="none" stroke-width="1"/>
<rect x="74.80" y="640.60" width="16.80" height="3.60" fill="#1a9bd8" stroke="none" stroke-width="1"/>
<text x="31.50" y="651.30" font-size="8.0" fill="#1a1a1a">Tram</text>
<text x="51.60" y="651.30" font-size="8.0" fill="#1a1a1a">Combo</text>
<text x="78.80" y="651.30" font-size="8.0" fill="#1a1a1a">Lest</text>
<defs><linearGradient id="lg" x1="0" y1="1" x2="0" y2="0">
<stop offset="0" stop-color="#fffde8"/><stop offset="0.1" stop-color="#fff7cc"/><stop offset="0.2" stop-color="#fedc80"/>
<stop offset="0.3" stop-color="#fbb442"/><stop offset="0.5" stop-color="#e66c15"/><stop offset="0.75" stop-color="#b9480f"/><stop offset="1" stop-color="#8a3210"/></linearGradient></defs>
<rect x="13.30" y="592.00" width="11.40" height="44.60" fill="url(#lg)" stroke="#333" stroke-width="0.6"/>
<line x1="24.70" y1="636.60" x2="26.00" y2="636.60" stroke="#111" stroke-width="0.5"/>
<line x1="24.70" y1="632.14" x2="26.00" y2="632.14" stroke="#111" stroke-width="0.5"/>
<line x1="24.70" y1="627.68" x2="26.00" y2="627.68" stroke="#111" stroke-width="0.5"/>
<line x1="24.70" y1="623.22" x2="26.00" y2="623.22" stroke="#111" stroke-width="0.5"/>
<line x1="24.70" y1="614.30" x2="26.00" y2="614.30" stroke="#111" stroke-width="0.5"/>
<line x1="24.70" y1="592.00" x2="26.00" y2="592.00" stroke="#111" stroke-width="0.5"/>
<text x="34.00" y="638.60" font-size="7.6" fill="#1a1a1a" transform="rotate(-90 34.00 638.60)">0246</text>
<text x="34.00" y="618.00" font-size="7.6" fill="#1a1a1a" transform="rotate(-90 34.00 618.00)">10</text>
<text x="34.00" y="596.80" font-size="7.6" fill="#1a1a1a" transform="rotate(-90 34.00 596.80)">20</text>
<text x="11.20" y="629.00" font-size="8.1" fill="#1a1a1a" transform="rotate(-90 11.20 629.00)">-log10(P)</text>
<text x="6.00" y="13.80" font-size="15.8" font-weight="bold" fill="#111">A</text>
<defs>
<filter id="f05" x="-30%" y="-100%" width="160%" height="300%"><feGaussianBlur stdDeviation="0.6"/></filter>
<filter id="f1" x="-30%" y="-100%" width="160%" height="300%"><feGaussianBlur stdDeviation="0.85"/></filter>
<filter id="f15" x="-30%" y="-100%" width="160%" height="300%"><feGaussianBlur stdDeviation="1.5"/></filter>
<filter id="f2" x="-40%" y="-150%" width="180%" height="400%"><feGaussianBlur stdDeviation="2.2"/></filter>
<filter id="f3" x="-50%" y="-200%" width="200%" height="500%"><feGaussianBlur stdDeviation="3.2"/></filter>
</defs>
<text x="246.30" y="14.00" font-size="15.8" font-weight="bold" fill="#111">C</text>
<text x="320.20" y="21.90" font-size="11.3" font-weight="bold" text-anchor="middle" fill="#111">H1792</text>
<text x="397.60" y="21.90" font-size="11.3" font-weight="bold" text-anchor="middle" fill="#111">HCC44</text>
<line x1="291.10" y1="27.10" x2="350.40" y2="27.10" stroke="#111" stroke-width="1.25"/>
<line x1="367.10" y1="27.10" x2="426.30" y2="27.10" stroke="#111" stroke-width="1.25"/>
<text x="296.00" y="60.30" font-size="9.0" fill="#1a1a1a" transform="rotate(-90 296.00 60.30)">Ctrl</text>
<text x="315.20" y="60.30" font-size="9.0" fill="#1a1a1a" transform="rotate(-90 315.20 60.30)">Tram</text>
<text x="333.50" y="60.30" font-size="9.0" fill="#1a1a1a" transform="rotate(-90 333.50 60.30)">Mido</text>
<text x="350.40" y="60.30" font-size="9.0" fill="#1a1a1a" transform="rotate(-90 350.40 60.30)">Combo</text>
<text x="374.60" y="60.30" font-size="9.0" fill="#1a1a1a" transform="rotate(-90 374.60 60.30)">Ctrl</text>
<text x="392.70" y="60.30" font-size="9.0" fill="#1a1a1a" transform="rotate(-90 392.70 60.30)">Tram</text>
<text x="409.10" y="60.30" font-size="9.0" fill="#1a1a1a" transform="rotate(-90 409.10 60.30)">Mido</text>
<text x="426.80" y="60.30" font-size="9.0" fill="#1a1a1a" transform="rotate(-90 426.80 60.30)">Combo</text>
<text x="292.80" y="68.20" font-size="7.7" text-anchor="middle" fill="#1a1a1a">1</text>
<text x="312.00" y="68.20" font-size="7.7" text-anchor="middle" fill="#1a1a1a">0.7</text>
<text x="330.30" y="68.20" font-size="7.7" text-anchor="middle" fill="#1a1a1a">0.7</text>
<text x="347.20" y="68.20" font-size="7.7" text-anchor="middle" fill="#1a1a1a">0.5</text>
<text x="371.40" y="68.20" font-size="7.7" text-anchor="middle" fill="#1a1a1a">1</text>
<text x="389.50" y="68.20" font-size="7.7" text-anchor="middle" fill="#1a1a1a">0.5</text>
<text x="405.90" y="68.20" font-size="7.7" text-anchor="middle" fill="#1a1a1a">0.6</text>
<text x="423.60" y="68.20" font-size="7.7" text-anchor="middle" fill="#1a1a1a">0.1</text>
<text x="436.70" y="58.70" font-size="8.4" fill="#1a1a1a">KDa</text>
<text x="281.00" y="83.80" font-size="9.1" text-anchor="end" fill="#1a1a1a">MYC</text>
<text x="281.00" y="106.60" font-size="9.1" text-anchor="end" fill="#1a1a1a">HSP90</text>
<clipPath id="c1"><rect x="283.90" y="70.60" width="73.90" height="21.10"/></clipPath>
<rect x="283.90" y="70.60" width="73.90" height="21.10" fill="#e1e1e1" stroke="none" stroke-width="1"/>
<g clip-path="url(#c1)">
<rect x="282.00" y="71.50" width="40.00" height="9.00" rx="4.50" fill="#000" opacity="0.22" filter="url(#f3)"/>
<rect x="320.00" y="74.00" width="36.00" height="8.00" rx="4.00" fill="#000" opacity="0.1" filter="url(#f3)"/>
<rect x="284.20" y="74.20" width="17.00" height="10.00" rx="5.00" fill="#000" opacity="0.291" filter="url(#f15)"/>
<rect x="284.45" y="75.40" width="16.50" height="7.60" rx="3.80" fill="#000" opacity="0.97" filter="url(#f1)"/>
<rect x="283.70" y="72.50" width="18.00" height="12.00" rx="6.00" fill="#000" opacity="0.28" filter="url(#f2)"/>
<rect x="304.15" y="74.60" width="14.50" height="7.20" rx="3.60" fill="#000" opacity="0.255" filter="url(#f15)"/>
<rect x="304.40" y="75.80" width="14.00" height="4.80" rx="2.40" fill="#000" opacity="0.85" filter="url(#f1)"/>
<rect x="303.90" y="74.50" width="15.00" height="9.00" rx="4.50" fill="#000" opacity="0.2" filter="url(#f2)"/>
<rect x="323.05" y="76.00" width="13.50" height="6.40" rx="3.20" fill="#000" opacity="0.126" filter="url(#f15)"/>
<rect x="323.30" y="77.20" width="13.00" height="4.00" rx="2.00" fill="#000" opacity="0.42" filter="url(#f1)"/>
<rect x="323.80" y="81.50" width="12.00" height="6.00" rx="3.00" fill="#000" opacity="0.2" filter="url(#f2)"/>
<rect x="340.65" y="75.30" width="13.50" height="6.20" rx="3.10" fill="#000" opacity="0.096" filter="url(#f15)"/>
<rect x="340.90" y="76.50" width="13.00" height="3.80" rx="1.90" fill="#000" opacity="0.32" filter="url(#f1)"/>
<rect x="341.40" y="79.50" width="12.00" height="6.00" rx="3.00" fill="#000" opacity="0.1" filter="url(#f2)"/>
</g>
<rect x="283.90" y="70.60" width="73.90" height="21.10" fill="none" stroke="#111" stroke-width="1.3"/>
<clipPath id="c2"><rect x="283.90" y="94.10" width="73.90" height="20.90"/></clipPath>
<rect x="283.90" y="94.10" width="73.90" height="20.90" fill="#e9e9e2" stroke="none" stroke-width="1"/>
<g clip-path="url(#c2)">
<rect x="285.35" y="103.00" width="15.10" height="5.20" rx="2.60" fill="#000" opacity="0.285" filter="url(#f15)"/>
<rect x="285.60" y="104.20" width="14.60" height="2.80" rx="1.40" fill="#000" opacity="0.95" filter="url(#f1)"/>
<rect x="285.55" y="103.50" width="3.50" height="3.60" rx="1.75" fill="#000" opacity="0.4" filter="url(#f05)"/>
<rect x="296.75" y="103.50" width="3.50" height="3.60" rx="1.75" fill="#000" opacity="0.4" filter="url(#f05)"/>
<rect x="303.85" y="103.30" width="15.10" height="5.20" rx="2.60" fill="#000" opacity="0.285" filter="url(#f15)"/>
<rect x="304.10" y="104.50" width="14.60" height="2.80" rx="1.40" fill="#000" opacity="0.95" filter="url(#f1)"/>
<rect x="304.05" y="103.80" width="3.50" height="3.60" rx="1.75" fill="#000" opacity="0.4" filter="url(#f05)"/>
<rect x="315.25" y="103.80" width="3.50" height="3.60" rx="1.75" fill="#000" opacity="0.4" filter="url(#f05)"/>
<rect x="322.25" y="102.80" width="15.10" height="5.20" rx="2.60" fill="#000" opacity="0.285" filter="url(#f15)"/>
<rect x="322.50" y="104.00" width="14.60" height="2.80" rx="1.40" fill="#000" opacity="0.95" filter="url(#f1)"/>
<rect x="322.45" y="103.30" width="3.50" height="3.60" rx="1.75" fill="#000" opacity="0.4" filter="url(#f05)"/>
<rect x="333.65" y="103.30" width="3.50" height="3.60" rx="1.75" fill="#000" opacity="0.4" filter="url(#f05)"/>
<rect x="339.85" y="102.30" width="15.10" height="5.20" rx="2.60" fill="#000" opacity="0.285" filter="url(#f15)"/>
<rect x="340.10" y="103.50" width="14.60" height="2.80" rx="1.40" fill="#000" opacity="0.95" filter="url(#f1)"/>
<rect x="340.05" y="102.80" width="3.50" height="3.60" rx="1.75" fill="#000" opacity="0.4" filter="url(#f05)"/>
<rect x="351.25" y="102.80" width="3.50" height="3.60" rx="1.75" fill="#000" opacity="0.4" filter="url(#f05)"/>
<rect x="341.60" y="109.75" width="12.00" height="1.30" rx="0.65" fill="#000" opacity="0.28" filter="url(#f05)"/>
</g>
<rect x="283.90" y="94.10" width="73.90" height="20.90" fill="none" stroke="#111" stroke-width="1.3"/>
<clipPath id="c3"><rect x="360.10" y="70.60" width="72.20" height="21.10"/></clipPath>
<rect x="360.10" y="70.60" width="72.20" height="21.10" fill="#e2e2e2" stroke="none" stroke-width="1"/>
<g clip-path="url(#c3)">
<rect x="361.25" y="75.40" width="19.50" height="9.20" rx="4.60" fill="#000" opacity="0.294" filter="url(#f15)"/>
<rect x="361.50" y="76.60" width="19.00" height="6.80" rx="3.40" fill="#000" opacity="0.98" filter="url(#f1)"/>
<rect x="360.50" y="74.50" width="21.00" height="11.00" rx="5.50" fill="#000" opacity="0.28" filter="url(#f2)"/>
<rect x="381.85" y="77.20" width="15.50" height="6.40" rx="3.20" fill="#000" opacity="0.285" filter="url(#f15)"/>
<rect x="382.10" y="78.40" width="15.00" height="4.00" rx="2.00" fill="#000" opacity="0.95" filter="url(#f1)"/>
<rect x="398.85" y="76.50" width="15.50" height="7.00" rx="3.50" fill="#000" opacity="0.288" filter="url(#f15)"/>
<rect x="399.10" y="77.70" width="15.00" height="4.60" rx="2.30" fill="#000" opacity="0.96" filter="url(#f1)"/>
<rect x="417.75" y="76.30" width="12.50" height="6.40" rx="3.20" fill="#000" opacity="0.039" filter="url(#f15)"/>
<rect x="418.00" y="77.50" width="12.00" height="4.00" rx="2.00" fill="#000" opacity="0.13" filter="url(#f1)"/>
</g>
<rect x="360.10" y="70.60" width="72.20" height="21.10" fill="none" stroke="#111" stroke-width="1.3"/>
<clipPath id="c4"><rect x="360.10" y="94.10" width="72.20" height="20.90"/></clipPath>
<rect x="360.10" y="94.10" width="72.20" height="20.90" fill="#dcdcdc" stroke="none" stroke-width="1"/>
<g clip-path="url(#c4)">
<rect x="363.45" y="103.60" width="15.10" height="5.20" rx="2.60" fill="#000" opacity="0.285" filter="url(#f15)"/>
<rect x="363.70" y="104.80" width="14.60" height="2.80" rx="1.40" fill="#000" opacity="0.95" filter="url(#f1)"/>
<rect x="363.65" y="104.50" width="3.50" height="3.40" rx="1.70" fill="#000" opacity="0.35" filter="url(#f05)"/>
<rect x="374.85" y="104.50" width="3.50" height="3.40" rx="1.70" fill="#000" opacity="0.35" filter="url(#f05)"/>
<rect x="382.05" y="103.80" width="15.10" height="5.20" rx="2.60" fill="#000" opacity="0.285" filter="url(#f15)"/>
<rect x="382.30" y="105.00" width="14.60" height="2.80" rx="1.40" fill="#000" opacity="0.95" filter="url(#f1)"/>
<rect x="382.25" y="104.70" width="3.50" height="3.40" rx="1.70" fill="#000" opacity="0.35" filter="url(#f05)"/>
<rect x="393.45" y="104.70" width="3.50" height="3.40" rx="1.70" fill="#000" opacity="0.35" filter="url(#f05)"/>
<rect x="399.05" y="103.40" width="15.10" height="5.20" rx="2.60" fill="#000" opacity="0.285" filter="url(#f15)"/>
<rect x="399.30" y="104.60" width="14.60" height="2.80" rx="1.40" fill="#000" opacity="0.95" filter="url(#f1)"/>
<rect x="399.25" y="104.30" width="3.50" height="3.40" rx="1.70" fill="#000" opacity="0.35" filter="url(#f05)"/>
<rect x="410.45" y="104.30" width="3.50" height="3.40" rx="1.70" fill="#000" opacity="0.35" filter="url(#f05)"/>
<rect x="416.45" y="101.80" width="15.10" height="5.20" rx="2.60" fill="#000" opacity="0.285" filter="url(#f15)"/>
<rect x="416.70" y="103.00" width="14.60" height="2.80" rx="1.40" fill="#000" opacity="0.95" filter="url(#f1)"/>
<rect x="416.65" y="102.70" width="3.50" height="3.40" rx="1.70" fill="#000" opacity="0.35" filter="url(#f05)"/>
<rect x="427.85" y="102.70" width="3.50" height="3.40" rx="1.70" fill="#000" opacity="0.35" filter="url(#f05)"/>
</g>
<rect x="360.10" y="94.10" width="72.20" height="20.90" fill="none" stroke="#111" stroke-width="1.3"/>
<line x1="432.30" y1="72.20" x2="437.80" y2="72.20" stroke="#111" stroke-width="1.25"/>
<text x="439.00" y="75.30" font-size="8.6" fill="#1a1a1a">50</text>
<line x1="432.30" y1="97.40" x2="437.80" y2="97.40" stroke="#111" stroke-width="1.25"/>
<text x="439.00" y="100.50" font-size="8.6" fill="#1a1a1a">100</text>
<text x="470.80" y="14.00" font-size="15.8" font-weight="bold" fill="#111">D</text>
<text x="532.30" y="22.30" font-size="11.3" font-weight="bold" text-anchor="middle" fill="#111">H1792</text>
<text x="610.30" y="22.30" font-size="11.3" font-weight="bold" text-anchor="middle" fill="#111">HCC44</text>
<line x1="503.30" y1="27.30" x2="562.50" y2="27.30" stroke="#111" stroke-width="1.25"/>
<line x1="579.20" y1="27.30" x2="638.60" y2="27.30" stroke="#111" stroke-width="1.25"/>
<text x="508.60" y="60.40" font-size="9.0" fill="#1a1a1a" transform="rotate(-90 508.60 60.40)">Ctrl</text>
<text x="526.40" y="60.40" font-size="9.0" fill="#1a1a1a" transform="rotate(-90 526.40 60.40)">Soto</text>
<text x="542.80" y="60.40" font-size="9.0" fill="#1a1a1a" transform="rotate(-90 542.80 60.40)">Mido</text>
<text x="561.30" y="60.40" font-size="9.0" fill="#1a1a1a" transform="rotate(-90 561.30 60.40)">Combo</text>
<text x="585.80" y="60.40" font-size="9.0" fill="#1a1a1a" transform="rotate(-90 585.80 60.40)">Ctrl</text>
<text x="603.20" y="60.40" font-size="9.0" fill="#1a1a1a" transform="rotate(-90 603.20 60.40)">Soto</text>
<text x="620.70" y="60.40" font-size="9.0" fill="#1a1a1a" transform="rotate(-90 620.70 60.40)">Mido</text>
<text x="638.90" y="60.40" font-size="9.0" fill="#1a1a1a" transform="rotate(-90 638.90 60.40)">Combo</text>
<text x="653.80" y="58.60" font-size="8.6" fill="#1a1a1a">KDa</text>
<text x="491.30" y="83.00" font-size="9.1" text-anchor="end" fill="#1a1a1a">MYC</text>
<text x="491.30" y="107.30" font-size="9.1" text-anchor="end" fill="#1a1a1a">ACTIN</text>
<clipPath id="c5"><rect x="494.30" y="69.20" width="76.70" height="20.80"/></clipPath>
<rect x="494.30" y="69.20" width="76.70" height="20.80" fill="#e6e6e6" stroke="none" stroke-width="1"/>
<g clip-path="url(#c5)">
<rect x="495.65" y="74.70" width="17.50" height="8.40" rx="4.20" fill="#000" opacity="0.285" filter="url(#f15)"/>
<rect x="495.90" y="75.90" width="17.00" height="6.00" rx="3.00" fill="#000" opacity="0.95" filter="url(#f1)"/>
<rect x="494.90" y="73.50" width="19.00" height="11.00" rx="5.50" fill="#000" opacity="0.2" filter="url(#f3)"/>
<rect x="515.95" y="75.30" width="17.50" height="9.40" rx="4.70" fill="#000" opacity="0.294" filter="url(#f15)"/>
<rect x="516.20" y="76.50" width="17.00" height="7.00" rx="3.50" fill="#000" opacity="0.98" filter="url(#f1)"/>
<rect x="515.20" y="73.00" width="19.00" height="12.00" rx="6.00" fill="#000" opacity="0.25" filter="url(#f3)"/>
<rect x="535.20" y="76.80" width="15.00" height="7.40" rx="3.70" fill="#000" opacity="0.279" filter="url(#f15)"/>
<rect x="535.45" y="78.00" width="14.50" height="5.00" rx="2.50" fill="#000" opacity="0.93" filter="url(#f1)"/>
<rect x="552.55" y="77.40" width="13.50" height="6.80" rx="3.40" fill="#000" opacity="0.15" filter="url(#f15)"/>
<rect x="552.80" y="78.60" width="13.00" height="4.40" rx="2.20" fill="#000" opacity="0.5" filter="url(#f1)"/>
</g>
<rect x="494.30" y="69.20" width="76.70" height="20.80" fill="none" stroke="#111" stroke-width="1.3"/>
<clipPath id="c6"><rect x="494.30" y="92.50" width="76.70" height="20.80"/></clipPath>
<rect x="494.30" y="92.50" width="76.70" height="20.80" fill="#e4e4e4" stroke="none" stroke-width="1"/>
<g clip-path="url(#c6)">
<rect x="496.80" y="97.80" width="17.00" height="7.60" rx="3.80" fill="#000" opacity="0.288" filter="url(#f15)"/>
<rect x="497.05" y="99.00" width="16.50" height="5.20" rx="2.60" fill="#000" opacity="0.96" filter="url(#f1)"/>
<rect x="516.20" y="100.00" width="17.00" height="7.60" rx="3.80" fill="#000" opacity="0.288" filter="url(#f15)"/>
<rect x="516.45" y="101.20" width="16.50" height="5.20" rx="2.60" fill="#000" opacity="0.96" filter="url(#f1)"/>
<rect x="534.20" y="100.00" width="17.00" height="7.60" rx="3.80" fill="#000" opacity="0.288" filter="url(#f15)"/>
<rect x="534.45" y="101.20" width="16.50" height="5.20" rx="2.60" fill="#000" opacity="0.96" filter="url(#f1)"/>
<rect x="550.80" y="100.00" width="17.00" height="7.60" rx="3.80" fill="#000" opacity="0.288" filter="url(#f15)"/>
<rect x="551.05" y="101.20" width="16.50" height="5.20" rx="2.60" fill="#000" opacity="0.96" filter="url(#f1)"/>
</g>
<rect x="494.30" y="92.50" width="76.70" height="20.80" fill="none" stroke="#111" stroke-width="1.3"/>
<clipPath id="c7"><rect x="573.20" y="69.20" width="77.70" height="20.80"/></clipPath>
<rect x="573.20" y="69.20" width="77.70" height="20.80" fill="#e8e8e8" stroke="none" stroke-width="1"/>
<g clip-path="url(#c7)">
<rect x="573.75" y="76.30" width="15.50" height="7.80" rx="3.90" fill="#000" opacity="0.22499999999999998" filter="url(#f15)"/>
<rect x="574.00" y="77.50" width="15.00" height="5.40" rx="2.70" fill="#000" opacity="0.75" filter="url(#f1)"/>
<rect x="590.95" y="76.50" width="15.50" height="7.40" rx="3.70" fill="#000" opacity="0.21" filter="url(#f15)"/>
<rect x="591.20" y="77.70" width="15.00" height="5.00" rx="2.50" fill="#000" opacity="0.7" filter="url(#f1)"/>
<rect x="610.95" y="76.00" width="14.50" height="6.80" rx="3.40" fill="#000" opacity="0.099" filter="url(#f15)"/>
<rect x="611.20" y="77.20" width="14.00" height="4.40" rx="2.20" fill="#000" opacity="0.33" filter="url(#f1)"/>
<rect x="631.95" y="75.60" width="14.50" height="6.60" rx="3.30" fill="#000" opacity="0.06" filter="url(#f15)"/>
<rect x="632.20" y="76.80" width="14.00" height="4.20" rx="2.10" fill="#000" opacity="0.2" filter="url(#f1)"/>
</g>
<rect x="573.20" y="69.20" width="77.70" height="20.80" fill="none" stroke="#111" stroke-width="1.3"/>
<clipPath id="c8"><rect x="573.20" y="92.50" width="77.70" height="20.80"/></clipPath>
<rect x="573.20" y="92.50" width="77.70" height="20.80" fill="#e6e6e6" stroke="none" stroke-width="1"/>
<g clip-path="url(#c8)">
<rect x="574.15" y="100.00" width="17.50" height="7.60" rx="3.80" fill="#000" opacity="0.288" filter="url(#f15)"/>
<rect x="574.40" y="101.20" width="17.00" height="5.20" rx="2.60" fill="#000" opacity="0.96" filter="url(#f1)"/>
<rect x="590.85" y="100.00" width="17.50" height="7.60" rx="3.80" fill="#000" opacity="0.288" filter="url(#f15)"/>
<rect x="591.10" y="101.20" width="17.00" height="5.20" rx="2.60" fill="#000" opacity="0.96" filter="url(#f1)"/>
<rect x="609.45" y="99.20" width="17.50" height="7.60" rx="3.80" fill="#000" opacity="0.288" filter="url(#f15)"/>
<rect x="609.70" y="100.40" width="17.00" height="5.20" rx="2.60" fill="#000" opacity="0.96" filter="url(#f1)"/>
<rect x="629.65" y="99.20" width="17.50" height="7.60" rx="3.80" fill="#000" opacity="0.288" filter="url(#f15)"/>
<rect x="629.90" y="100.40" width="17.00" height="5.20" rx="2.60" fill="#000" opacity="0.96" filter="url(#f1)"/>
</g>
<rect x="573.20" y="92.50" width="77.70" height="20.80" fill="none" stroke="#111" stroke-width="1.3"/>
<line x1="650.90" y1="71.10" x2="656.40" y2="71.10" stroke="#111" stroke-width="1.25"/>
<text x="657.60" y="74.20" font-size="8.6" fill="#1a1a1a">50</text>
<line x1="650.90" y1="111.30" x2="656.40" y2="111.30" stroke="#111" stroke-width="1.25"/>
<text x="657.60" y="114.40" font-size="8.6" fill="#1a1a1a">37</text>
<text x="329.00" y="140.60" font-size="15.8" font-weight="bold" fill="#111">E</text>
<text x="515.80" y="139.40" font-size="11.0" font-weight="bold" text-anchor="middle" fill="#111">H23</text>
<line x1="418.80" y1="143.60" x2="610.10" y2="143.60" stroke="#111" stroke-width="1.25"/>
<text x="447.80" y="155.30" font-size="9.1" text-anchor="middle" fill="#1a1a1a">Tram</text>
<text x="516.60" y="155.30" font-size="9.1" text-anchor="middle" fill="#1a1a1a">Mido</text>
<text x="587.00" y="155.30" font-size="9.1" text-anchor="middle" fill="#1a1a1a">Combo</text>
<line x1="416.20" y1="157.60" x2="477.90" y2="157.60" stroke="#111" stroke-width="1.25"/>
<line x1="486.30" y1="157.60" x2="548.40" y2="157.60" stroke="#111" stroke-width="1.25"/>
<line x1="557.00" y1="157.60" x2="619.80" y2="157.60" stroke="#111" stroke-width="1.25"/>
<text x="353.40" y="172.70" font-size="9.4" fill="#1a1a1a">Time (h)</text>
<text x="400.60" y="172.70" font-size="9.4" text-anchor="middle" fill="#1a1a1a">0</text>
<text x="420.00" y="172.70" font-size="9.4" text-anchor="middle" fill="#1a1a1a">2</text>
<text x="438.00" y="172.70" font-size="9.4" text-anchor="middle" fill="#1a1a1a">6</text>
<text x="455.60" y="172.70" font-size="9.4" text-anchor="middle" fill="#1a1a1a">10</text>
<text x="474.20" y="172.70" font-size="9.4" text-anchor="middle" fill="#1a1a1a">24</text>
<text x="491.00" y="172.70" font-size="9.4" text-anchor="middle" fill="#1a1a1a">2</text>
<text x="508.80" y="172.70" font-size="9.4" text-anchor="middle" fill="#1a1a1a">6</text>
<text x="526.30" y="172.70" font-size="9.4" text-anchor="middle" fill="#1a1a1a">10</text>
<text x="543.40" y="172.70" font-size="9.4" text-anchor="middle" fill="#1a1a1a">24</text>
<text x="560.40" y="172.70" font-size="9.4" text-anchor="middle" fill="#1a1a1a">2</text>
<text x="578.80" y="172.70" font-size="9.4" text-anchor="middle" fill="#1a1a1a">6</text>
<text x="595.50" y="172.70" font-size="9.4" text-anchor="middle" fill="#1a1a1a">10</text>
<text x="613.60" y="172.70" font-size="9.4" text-anchor="middle" fill="#1a1a1a">24</text>
<text x="629.60" y="172.70" font-size="9.2" fill="#1a1a1a">KDa</text>
<text x="400.60" y="185.60" font-size="7.7" text-anchor="middle" fill="#1a1a1a">1</text>
<text x="420.00" y="185.60" font-size="7.7" text-anchor="middle" fill="#1a1a1a">0.5</text>
<text x="438.00" y="185.60" font-size="7.7" text-anchor="middle" fill="#1a1a1a">0.5</text>
<text x="455.60" y="185.60" font-size="7.7" text-anchor="middle" fill="#1a1a1a">0.5</text>
<text x="474.20" y="185.60" font-size="7.7" text-anchor="middle" fill="#1a1a1a">0.6</text>
<text x="491.00" y="185.60" font-size="7.7" text-anchor="middle" fill="#1a1a1a">0.5</text>
<text x="508.80" y="185.60" font-size="7.7" text-anchor="middle" fill="#1a1a1a">0.4</text>
<text x="526.30" y="185.60" font-size="7.7" text-anchor="middle" fill="#1a1a1a">0.7</text>
<text x="543.40" y="185.60" font-size="7.7" text-anchor="middle" fill="#1a1a1a">0.9</text>
<text x="560.40" y="185.60" font-size="7.7" text-anchor="middle" fill="#1a1a1a">0.3</text>
<text x="578.80" y="185.60" font-size="7.7" text-anchor="middle" fill="#1a1a1a">0.2</text>
<text x="595.50" y="185.60" font-size="7.7" text-anchor="middle" fill="#1a1a1a">0.3</text>
<text x="613.60" y="185.60" font-size="7.7" text-anchor="middle" fill="#1a1a1a">0.4</text>
<text x="386.60" y="201.60" font-size="9.1" text-anchor="end" fill="#1a1a1a">MYC</text>
<text x="386.60" y="228.60" font-size="9.1" text-anchor="end" fill="#1a1a1a">p-ERK1/2</text>
<text x="386.60" y="252.80" font-size="9.1" text-anchor="end" fill="#1a1a1a">HSP90</text>
<clipPath id="c9"><rect x="389.00" y="187.40" width="237.30" height="22.00"/></clipPath>
<rect x="389.00" y="187.40" width="237.30" height="22.00" fill="#e5e5e5" stroke="none" stroke-width="1"/>
<g clip-path="url(#c9)">
<rect x="392.85" y="193.25" width="15.50" height="9.50" rx="4.75" fill="#000" opacity="0.39899999999999997" filter="url(#f2)"/>
<rect x="393.35" y="194.00" width="14.50" height="4.40" rx="2.20" fill="#000" opacity="0.855" filter="url(#f15)"/>
<rect x="394.10" y="194.90" width="13.00" height="2.60" rx="1.30" fill="#000" opacity="0.8" filter="url(#f1)"/>
<rect x="412.25" y="193.25" width="15.50" height="9.50" rx="4.75" fill="#000" opacity="0.17639999999999997" filter="url(#f2)"/>
<rect x="412.75" y="195.20" width="14.50" height="5.20" rx="2.60" fill="#000" opacity="0.378" filter="url(#f15)"/>
<rect x="430.25" y="193.25" width="15.50" height="9.50" rx="4.75" fill="#000" opacity="0.1596" filter="url(#f2)"/>
<rect x="430.75" y="195.20" width="14.50" height="5.20" rx="2.60" fill="#000" opacity="0.342" filter="url(#f15)"/>
<rect x="447.85" y="193.25" width="15.50" height="9.50" rx="4.75" fill="#000" opacity="0.231" filter="url(#f2)"/>
<rect x="448.35" y="194.60" width="14.50" height="4.40" rx="2.20" fill="#000" opacity="0.49500000000000005" filter="url(#f15)"/>
<rect x="466.45" y="193.25" width="15.50" height="9.50" rx="4.75" fill="#000" opacity="0.26039999999999996" filter="url(#f2)"/>
<rect x="466.95" y="194.60" width="14.50" height="4.40" rx="2.20" fill="#000" opacity="0.558" filter="url(#f15)"/>
<rect x="483.25" y="193.25" width="15.50" height="9.50" rx="4.75" fill="#000" opacity="0.1932" filter="url(#f2)"/>
<rect x="483.75" y="195.20" width="14.50" height="5.20" rx="2.60" fill="#000" opacity="0.41400000000000003" filter="url(#f15)"/>
<rect x="501.05" y="193.25" width="15.50" height="9.50" rx="4.75" fill="#000" opacity="0.17639999999999997" filter="url(#f2)"/>
<rect x="501.55" y="195.20" width="14.50" height="5.20" rx="2.60" fill="#000" opacity="0.378" filter="url(#f15)"/>
<rect x="518.55" y="193.25" width="15.50" height="9.50" rx="4.75" fill="#000" opacity="0.3444" filter="url(#f2)"/>
<rect x="519.05" y="194.00" width="14.50" height="4.40" rx="2.20" fill="#000" opacity="0.738" filter="url(#f15)"/>
<rect x="519.80" y="194.90" width="13.00" height="2.60" rx="1.30" fill="#000" opacity="0.8" filter="url(#f1)"/>
<rect x="535.65" y="193.25" width="15.50" height="9.50" rx="4.75" fill="#000" opacity="0.41159999999999997" filter="url(#f2)"/>
<rect x="536.15" y="194.00" width="14.50" height="4.40" rx="2.20" fill="#000" opacity="0.882" filter="url(#f15)"/>
<rect x="536.90" y="194.90" width="13.00" height="2.60" rx="1.30" fill="#000" opacity="0.8" filter="url(#f1)"/>
<rect x="552.65" y="193.25" width="15.50" height="9.50" rx="4.75" fill="#000" opacity="0.1092" filter="url(#f2)"/>
<rect x="553.15" y="195.20" width="14.50" height="5.20" rx="2.60" fill="#000" opacity="0.234" filter="url(#f15)"/>
<rect x="571.05" y="193.25" width="15.50" height="9.50" rx="4.75" fill="#000" opacity="0.0672" filter="url(#f2)"/>
<rect x="571.55" y="195.20" width="14.50" height="5.20" rx="2.60" fill="#000" opacity="0.14400000000000002" filter="url(#f15)"/>
<rect x="587.75" y="193.25" width="15.50" height="9.50" rx="4.75" fill="#000" opacity="0.084" filter="url(#f2)"/>
<rect x="588.25" y="195.20" width="14.50" height="5.20" rx="2.60" fill="#000" opacity="0.18000000000000002" filter="url(#f15)"/>
<rect x="605.85" y="193.25" width="15.50" height="9.50" rx="4.75" fill="#000" opacity="0.126" filter="url(#f2)"/>
<rect x="606.35" y="195.20" width="14.50" height="5.20" rx="2.60" fill="#000" opacity="0.27" filter="url(#f15)"/>
</g>
<rect x="389.00" y="187.40" width="237.30" height="22.00" fill="none" stroke="#111" stroke-width="1.3"/>
<clipPath id="c10"><rect x="389.00" y="212.30" width="237.30" height="22.10"/></clipPath>
<rect x="389.00" y="212.30" width="237.30" height="22.10" fill="#e4e4e4" stroke="none" stroke-width="1"/>
<g clip-path="url(#c10)">
<rect x="394.10" y="218.50" width="13.00" height="1.80" rx="0.90" fill="#000" opacity="0.42" filter="url(#f05)"/>
<rect x="393.85" y="222.40" width="13.50" height="3.00" rx="1.50" fill="#000" opacity="0.62" filter="url(#f1)"/>
<rect x="483.70" y="226.90" width="58.00" height="3.00" rx="1.50" fill="#000" opacity="0.6" filter="url(#f1)"/>
<rect x="482.45" y="222.80" width="13.50" height="2.40" rx="1.20" fill="#000" opacity="0.66" filter="url(#f1)"/>
<rect x="481.45" y="226.60" width="15.50" height="4.00" rx="2.00" fill="#000" opacity="0.92" filter="url(#f1)"/>
<rect x="480.95" y="223.00" width="16.50" height="8.00" rx="4.00" fill="#000" opacity="0.3" filter="url(#f2)"/>
<rect x="498.45" y="222.80" width="13.50" height="2.40" rx="1.20" fill="#000" opacity="0.66" filter="url(#f1)"/>
<rect x="497.45" y="226.60" width="15.50" height="4.00" rx="2.00" fill="#000" opacity="0.92" filter="url(#f1)"/>
<rect x="496.95" y="223.00" width="16.50" height="8.00" rx="4.00" fill="#000" opacity="0.3" filter="url(#f2)"/>
<rect x="514.25" y="222.80" width="13.50" height="2.40" rx="1.20" fill="#000" opacity="0.66" filter="url(#f1)"/>
<rect x="513.25" y="226.60" width="15.50" height="4.00" rx="2.00" fill="#000" opacity="0.9" filter="url(#f1)"/>
<rect x="512.75" y="223.00" width="16.50" height="8.00" rx="4.00" fill="#000" opacity="0.3" filter="url(#f2)"/>
<rect x="529.60" y="222.80" width="14.00" height="2.40" rx="1.20" fill="#000" opacity="0.66" filter="url(#f1)"/>
<rect x="528.60" y="226.60" width="16.00" height="4.00" rx="2.00" fill="#000" opacity="0.97" filter="url(#f1)"/>
<rect x="528.10" y="223.00" width="17.00" height="8.00" rx="4.00" fill="#000" opacity="0.3" filter="url(#f2)"/>
</g>
<rect x="389.00" y="212.30" width="237.30" height="22.10" fill="none" stroke="#111" stroke-width="1.3"/>
<clipPath id="c11"><rect x="389.00" y="237.80" width="237.30" height="21.80"/></clipPath>
<rect x="389.00" y="237.80" width="237.30" height="21.80" fill="#e2e2e2" stroke="none" stroke-width="1"/>
<g clip-path="url(#c11)">
<rect x="391.95" y="245.00" width="17.30" height="6.80" rx="3.40" fill="#000" opacity="0.288" filter="url(#f15)"/>
<rect x="392.20" y="246.20" width="16.80" height="4.40" rx="2.20" fill="#000" opacity="0.96" filter="url(#f1)"/>
<rect x="411.35" y="245.60" width="17.30" height="6.80" rx="3.40" fill="#000" opacity="0.288" filter="url(#f15)"/>
<rect x="411.60" y="246.80" width="16.80" height="4.40" rx="2.20" fill="#000" opacity="0.96" filter="url(#f1)"/>
<rect x="429.35" y="245.60" width="17.30" height="6.80" rx="3.40" fill="#000" opacity="0.288" filter="url(#f15)"/>
<rect x="429.60" y="246.80" width="16.80" height="4.40" rx="2.20" fill="#000" opacity="0.96" filter="url(#f1)"/>
<rect x="446.95" y="245.60" width="17.30" height="6.80" rx="3.40" fill="#000" opacity="0.288" filter="url(#f15)"/>
<rect x="447.20" y="246.80" width="16.80" height="4.40" rx="2.20" fill="#000" opacity="0.96" filter="url(#f1)"/>
<rect x="465.55" y="245.00" width="17.30" height="6.80" rx="3.40" fill="#000" opacity="0.288" filter="url(#f15)"/>
<rect x="465.80" y="246.20" width="16.80" height="4.40" rx="2.20" fill="#000" opacity="0.96" filter="url(#f1)"/>
<rect x="482.35" y="245.00" width="17.30" height="6.80" rx="3.40" fill="#000" opacity="0.288" filter="url(#f15)"/>
<rect x="482.60" y="246.20" width="16.80" height="4.40" rx="2.20" fill="#000" opacity="0.96" filter="url(#f1)"/>
<rect x="500.15" y="245.00" width="17.30" height="6.80" rx="3.40" fill="#000" opacity="0.288" filter="url(#f15)"/>
<rect x="500.40" y="246.20" width="16.80" height="4.40" rx="2.20" fill="#000" opacity="0.96" filter="url(#f1)"/>
<rect x="517.65" y="245.00" width="17.30" height="6.80" rx="3.40" fill="#000" opacity="0.288" filter="url(#f15)"/>
<rect x="517.90" y="246.20" width="16.80" height="4.40" rx="2.20" fill="#000" opacity="0.96" filter="url(#f1)"/>
<rect x="534.75" y="245.00" width="17.30" height="6.80" rx="3.40" fill="#000" opacity="0.288" filter="url(#f15)"/>
<rect x="535.00" y="246.20" width="16.80" height="4.40" rx="2.20" fill="#000" opacity="0.96" filter="url(#f1)"/>
<rect x="551.75" y="245.60" width="17.30" height="6.80" rx="3.40" fill="#000" opacity="0.288" filter="url(#f15)"/>
<rect x="552.00" y="246.80" width="16.80" height="4.40" rx="2.20" fill="#000" opacity="0.96" filter="url(#f1)"/>
<rect x="570.15" y="245.60" width="17.30" height="6.80" rx="3.40" fill="#000" opacity="0.288" filter="url(#f15)"/>
<rect x="570.40" y="246.80" width="16.80" height="4.40" rx="2.20" fill="#000" opacity="0.96" filter="url(#f1)"/>
<rect x="586.85" y="245.60" width="17.30" height="6.80" rx="3.40" fill="#000" opacity="0.288" filter="url(#f15)"/>
<rect x="587.10" y="246.80" width="16.80" height="4.40" rx="2.20" fill="#000" opacity="0.96" filter="url(#f1)"/>
<rect x="604.95" y="245.00" width="17.30" height="6.80" rx="3.40" fill="#000" opacity="0.288" filter="url(#f15)"/>
<rect x="605.20" y="246.20" width="16.80" height="4.40" rx="2.20" fill="#000" opacity="0.96" filter="url(#f1)"/>
</g>
<rect x="389.00" y="237.80" width="237.30" height="21.80" fill="none" stroke="#111" stroke-width="1.3"/>
<line x1="626.30" y1="190.70" x2="631.80" y2="190.70" stroke="#111" stroke-width="1.25"/>
<text x="633.00" y="193.80" font-size="8.6" fill="#1a1a1a">50</text>
<line x1="626.30" y1="232.00" x2="631.80" y2="232.00" stroke="#111" stroke-width="1.25"/>
<text x="633.00" y="235.10" font-size="8.6" fill="#1a1a1a">37</text>
<line x1="626.30" y1="242.30" x2="631.80" y2="242.30" stroke="#111" stroke-width="1.25"/>
<text x="633.00" y="245.40" font-size="8.6" fill="#1a1a1a">100</text>
<text x="330.30" y="280.20" font-size="15.8" font-weight="bold" fill="#111">F</text>
<text x="515.80" y="284.70" font-size="11.0" font-weight="bold" text-anchor="middle" fill="#111">H23</text>
<line x1="418.80" y1="288.90" x2="610.10" y2="288.90" stroke="#111" stroke-width="1.25"/>
<text x="444.00" y="300.60" font-size="9.1" text-anchor="middle" fill="#1a1a1a">Soto</text>
<text x="516.60" y="300.60" font-size="9.1" text-anchor="middle" fill="#1a1a1a">Mido</text>
<text x="587.00" y="300.60" font-size="9.1" text-anchor="middle" fill="#1a1a1a">Combo</text>
<line x1="416.20" y1="302.90" x2="477.90" y2="302.90" stroke="#111" stroke-width="1.25"/>
<line x1="486.30" y1="302.90" x2="548.40" y2="302.90" stroke="#111" stroke-width="1.25"/>
<line x1="557.00" y1="302.90" x2="619.80" y2="302.90" stroke="#111" stroke-width="1.25"/>
<text x="353.40" y="318.00" font-size="9.4" fill="#1a1a1a">Time (h)</text>
<text x="398.80" y="318.00" font-size="9.4" text-anchor="middle" fill="#1a1a1a">0</text>
<text x="419.30" y="318.00" font-size="9.4" text-anchor="middle" fill="#1a1a1a">2</text>
<text x="435.60" y="318.00" font-size="9.4" text-anchor="middle" fill="#1a1a1a">6</text>
<text x="454.40" y="318.00" font-size="9.4" text-anchor="middle" fill="#1a1a1a">10</text>
<text x="471.80" y="318.00" font-size="9.4" text-anchor="middle" fill="#1a1a1a">24</text>
<text x="489.90" y="318.00" font-size="9.4" text-anchor="middle" fill="#1a1a1a">2</text>
<text x="507.80" y="318.00" font-size="9.4" text-anchor="middle" fill="#1a1a1a">6</text>
<text x="525.60" y="318.00" font-size="9.4" text-anchor="middle" fill="#1a1a1a">10</text>
<text x="543.70" y="318.00" font-size="9.4" text-anchor="middle" fill="#1a1a1a">24</text>
<text x="560.20" y="318.00" font-size="9.4" text-anchor="middle" fill="#1a1a1a">2</text>
<text x="578.20" y="318.00" font-size="9.4" text-anchor="middle" fill="#1a1a1a">6</text>
<text x="595.00" y="318.00" font-size="9.4" text-anchor="middle" fill="#1a1a1a">10</text>
<text x="614.60" y="318.00" font-size="9.4" text-anchor="middle" fill="#1a1a1a">24</text>
<text x="629.60" y="318.00" font-size="9.2" fill="#1a1a1a">KDa</text>
<text x="398.80" y="330.90" font-size="7.7" text-anchor="middle" fill="#1a1a1a">1</text>
<text x="419.30" y="330.90" font-size="7.7" text-anchor="middle" fill="#1a1a1a">1</text>
<text x="435.60" y="330.90" font-size="7.7" text-anchor="middle" fill="#1a1a1a">0.8</text>
<text x="454.40" y="330.90" font-size="7.7" text-anchor="middle" fill="#1a1a1a">1</text>
<text x="471.80" y="330.90" font-size="7.7" text-anchor="middle" fill="#1a1a1a">1</text>
<text x="489.90" y="330.90" font-size="7.7" text-anchor="middle" fill="#1a1a1a">1</text>
<text x="507.80" y="330.90" font-size="7.7" text-anchor="middle" fill="#1a1a1a">0.9</text>
<text x="525.60" y="330.90" font-size="7.7" text-anchor="middle" fill="#1a1a1a">1.1</text>
<text x="543.70" y="330.90" font-size="7.7" text-anchor="middle" fill="#1a1a1a">1.3</text>
<text x="560.20" y="330.90" font-size="7.7" text-anchor="middle" fill="#1a1a1a">0.6</text>
<text x="578.20" y="330.90" font-size="7.7" text-anchor="middle" fill="#1a1a1a">0.3</text>
<text x="595.00" y="330.90" font-size="7.7" text-anchor="middle" fill="#1a1a1a">0.3</text>
<text x="614.60" y="330.90" font-size="7.7" text-anchor="middle" fill="#1a1a1a">0.4</text>
<text x="386.60" y="348.40" font-size="9.1" text-anchor="end" fill="#1a1a1a">MYC</text>
<text x="386.60" y="375.40" font-size="9.1" text-anchor="end" fill="#1a1a1a">p-ERK1/2</text>
<text x="386.60" y="399.60" font-size="9.1" text-anchor="end" fill="#1a1a1a">HSP90</text>
<clipPath id="c12"><rect x="389.00" y="334.20" width="237.30" height="22.00"/></clipPath>
<rect x="389.00" y="334.20" width="237.30" height="22.00" fill="#e5e5e5" stroke="none" stroke-width="1"/>
<g clip-path="url(#c12)">
<rect x="387.00" y="338.00" width="240.00" height="14.00" rx="7.00" fill="#000" opacity="0.1" filter="url(#f3)"/>
<rect x="390.30" y="337.00" width="17.00" height="12.00" rx="6.00" fill="#000" opacity="0.336" filter="url(#f2)"/>
<rect x="391.30" y="340.10" width="15.00" height="4.20" rx="2.10" fill="#000" opacity="0.7360000000000001" filter="url(#f15)"/>
<rect x="392.05" y="340.95" width="13.50" height="2.10" rx="1.05" fill="#000" opacity="0.7" filter="url(#f1)"/>
<rect x="410.80" y="340.30" width="17.00" height="12.00" rx="6.00" fill="#000" opacity="0.2772" filter="url(#f2)"/>
<rect x="411.80" y="343.20" width="15.00" height="4.60" rx="2.30" fill="#000" opacity="0.6072000000000001" filter="url(#f15)"/>
<rect x="412.55" y="344.15" width="13.50" height="2.30" rx="1.15" fill="#000" opacity="0.7" filter="url(#f1)"/>
<rect x="427.10" y="340.80" width="17.00" height="12.00" rx="6.00" fill="#000" opacity="0.294" filter="url(#f2)"/>
<rect x="428.10" y="343.70" width="15.00" height="4.60" rx="2.30" fill="#000" opacity="0.644" filter="url(#f15)"/>
<rect x="428.85" y="344.65" width="13.50" height="2.30" rx="1.15" fill="#000" opacity="0.7" filter="url(#f1)"/>
<rect x="445.90" y="340.30" width="17.00" height="12.00" rx="6.00" fill="#000" opacity="0.3696" filter="url(#f2)"/>
<rect x="446.90" y="343.10" width="15.00" height="4.80" rx="2.40" fill="#000" opacity="0.8096" filter="url(#f15)"/>
<rect x="447.65" y="344.10" width="13.50" height="2.40" rx="1.20" fill="#000" opacity="0.7" filter="url(#f1)"/>
<rect x="463.30" y="339.90" width="17.00" height="12.00" rx="6.00" fill="#000" opacity="0.3864" filter="url(#f2)"/>
<rect x="464.30" y="342.50" width="15.00" height="5.20" rx="2.60" fill="#000" opacity="0.8464" filter="url(#f15)"/>
<rect x="465.05" y="343.60" width="13.50" height="2.60" rx="1.30" fill="#000" opacity="0.7" filter="url(#f1)"/>
<rect x="481.40" y="339.90" width="17.00" height="12.00" rx="6.00" fill="#000" opacity="0.3864" filter="url(#f2)"/>
<rect x="482.40" y="342.60" width="15.00" height="5.00" rx="2.50" fill="#000" opacity="0.8464" filter="url(#f15)"/>
<rect x="483.15" y="343.65" width="13.50" height="2.50" rx="1.25" fill="#000" opacity="0.7" filter="url(#f1)"/>
<rect x="499.30" y="339.50" width="17.00" height="12.00" rx="6.00" fill="#000" opacity="0.36119999999999997" filter="url(#f2)"/>
<rect x="500.30" y="342.30" width="15.00" height="4.80" rx="2.40" fill="#000" opacity="0.7912" filter="url(#f15)"/>
<rect x="501.05" y="343.30" width="13.50" height="2.40" rx="1.20" fill="#000" opacity="0.7" filter="url(#f1)"/>
<rect x="517.10" y="339.10" width="17.00" height="12.00" rx="6.00" fill="#000" opacity="0.3864" filter="url(#f2)"/>
<rect x="518.10" y="341.30" width="15.00" height="6.00" rx="3.00" fill="#000" opacity="0.8464" filter="url(#f15)"/>
<rect x="518.85" y="342.60" width="13.50" height="3.00" rx="1.50" fill="#000" opacity="0.7" filter="url(#f1)"/>
<rect x="535.20" y="338.90" width="17.00" height="12.00" rx="6.00" fill="#000" opacity="0.41159999999999997" filter="url(#f2)"/>
<rect x="536.20" y="341.00" width="15.00" height="6.20" rx="3.10" fill="#000" opacity="0.9016000000000001" filter="url(#f15)"/>
<rect x="536.95" y="342.35" width="13.50" height="3.10" rx="1.55" fill="#000" opacity="0.7" filter="url(#f1)"/>
<rect x="551.70" y="338.60" width="17.00" height="12.00" rx="6.00" fill="#000" opacity="0.21" filter="url(#f2)"/>
<rect x="552.70" y="341.60" width="15.00" height="4.40" rx="2.20" fill="#000" opacity="0.46" filter="url(#f15)"/>
<rect x="569.70" y="338.90" width="17.00" height="12.00" rx="6.00" fill="#000" opacity="0.063" filter="url(#f2)"/>
<rect x="570.70" y="342.00" width="15.00" height="4.20" rx="2.10" fill="#000" opacity="0.138" filter="url(#f15)"/>
<rect x="586.50" y="338.40" width="17.00" height="12.00" rx="6.00" fill="#000" opacity="0.063" filter="url(#f2)"/>
<rect x="587.50" y="341.50" width="15.00" height="4.20" rx="2.10" fill="#000" opacity="0.138" filter="url(#f15)"/>
<rect x="606.10" y="338.40" width="17.00" height="12.00" rx="6.00" fill="#000" opacity="0.1344" filter="url(#f2)"/>
<rect x="607.10" y="341.10" width="15.00" height="5.00" rx="2.50" fill="#000" opacity="0.2944" filter="url(#f15)"/>
</g>
<rect x="389.00" y="334.20" width="237.30" height="22.00" fill="none" stroke="#111" stroke-width="1.3"/>
<clipPath id="c13"><rect x="389.00" y="359.10" width="237.30" height="22.10"/></clipPath>
<rect x="389.00" y="359.10" width="237.30" height="22.10" fill="#e4e4e4" stroke="none" stroke-width="1"/>
<g clip-path="url(#c13)">
<rect x="482.00" y="370.90" width="70.00" height="5.00" rx="2.50" fill="#000" opacity="0.85" filter="url(#f1)"/>
<rect x="483.00" y="366.60" width="50.00" height="2.00" rx="1.00" fill="#000" opacity="0.5" filter="url(#f1)"/>
<rect x="391.05" y="366.00" width="15.50" height="3.00" rx="1.50" fill="#000" opacity="0.32" filter="url(#f1)"/>
<rect x="390.05" y="371.30" width="17.50" height="4.20" rx="2.10" fill="#000" opacity="0.94" filter="url(#f1)"/>
<rect x="389.80" y="366.50" width="18.00" height="10.00" rx="5.00" fill="#000" opacity="0.3" filter="url(#f2)"/>
<rect x="412.05" y="366.40" width="14.50" height="2.20" rx="1.10" fill="#000" opacity="0.28" filter="url(#f05)"/>
<rect x="412.05" y="371.60" width="14.50" height="3.60" rx="1.80" fill="#000" opacity="0.7" filter="url(#f1)"/>
<rect x="428.35" y="366.40" width="14.50" height="2.20" rx="1.10" fill="#000" opacity="0.12" filter="url(#f05)"/>
<rect x="428.35" y="371.90" width="14.50" height="3.00" rx="1.50" fill="#000" opacity="0.48" filter="url(#f1)"/>
<rect x="447.15" y="366.40" width="14.50" height="2.20" rx="1.10" fill="#000" opacity="0.14" filter="url(#f05)"/>
<rect x="447.15" y="371.60" width="14.50" height="3.60" rx="1.80" fill="#000" opacity="0.72" filter="url(#f1)"/>
<rect x="464.55" y="366.40" width="14.50" height="2.20" rx="1.10" fill="#000" opacity="0.22" filter="url(#f05)"/>
<rect x="464.55" y="371.60" width="14.50" height="3.60" rx="1.80" fill="#000" opacity="0.82" filter="url(#f1)"/>
<rect x="482.15" y="366.00" width="15.50" height="3.00" rx="1.50" fill="#000" opacity="0.9" filter="url(#f1)"/>
<rect x="481.15" y="370.40" width="17.50" height="6.00" rx="3.00" fill="#000" opacity="0.99" filter="url(#f1)"/>
<rect x="480.90" y="366.50" width="18.00" height="10.00" rx="5.00" fill="#000" opacity="0.3" filter="url(#f2)"/>
<rect x="500.05" y="366.00" width="15.50" height="3.00" rx="1.50" fill="#000" opacity="0.9" filter="url(#f1)"/>
<rect x="499.05" y="370.40" width="17.50" height="6.00" rx="3.00" fill="#000" opacity="0.99" filter="url(#f1)"/>
<rect x="498.80" y="366.50" width="18.00" height="10.00" rx="5.00" fill="#000" opacity="0.3" filter="url(#f2)"/>
<rect x="517.85" y="366.00" width="15.50" height="3.00" rx="1.50" fill="#000" opacity="0.88" filter="url(#f1)"/>
<rect x="516.85" y="370.40" width="17.50" height="6.00" rx="3.00" fill="#000" opacity="0.99" filter="url(#f1)"/>
<rect x="516.60" y="366.50" width="18.00" height="10.00" rx="5.00" fill="#000" opacity="0.3" filter="url(#f2)"/>
<rect x="535.95" y="366.00" width="15.50" height="3.00" rx="1.50" fill="#000" opacity="0.62" filter="url(#f1)"/>
<rect x="534.95" y="370.90" width="17.50" height="5.00" rx="2.50" fill="#000" opacity="0.96" filter="url(#f1)"/>
<rect x="534.70" y="366.50" width="18.00" height="10.00" rx="5.00" fill="#000" opacity="0.3" filter="url(#f2)"/>
<rect x="552.95" y="366.40" width="14.50" height="2.20" rx="1.10" fill="#000" opacity="0.25" filter="url(#f05)"/>
<rect x="552.95" y="371.60" width="14.50" height="3.60" rx="1.80" fill="#000" opacity="0.78" filter="url(#f1)"/>
<rect x="570.95" y="366.40" width="14.50" height="2.20" rx="1.10" fill="#000" opacity="0.14" filter="url(#f05)"/>
<rect x="570.95" y="371.90" width="14.50" height="3.00" rx="1.50" fill="#000" opacity="0.52" filter="url(#f1)"/>
<rect x="587.75" y="366.40" width="14.50" height="2.20" rx="1.10" fill="#000" opacity="0.18" filter="url(#f05)"/>
<rect x="587.75" y="371.80" width="14.50" height="3.20" rx="1.60" fill="#000" opacity="0.66" filter="url(#f1)"/>
<rect x="607.35" y="366.40" width="14.50" height="2.20" rx="1.10" fill="#000" opacity="0.12" filter="url(#f05)"/>
<rect x="607.35" y="371.90" width="14.50" height="3.00" rx="1.50" fill="#000" opacity="0.72" filter="url(#f1)"/>
</g>
<rect x="389.00" y="359.10" width="237.30" height="22.10" fill="none" stroke="#111" stroke-width="1.3"/>
<clipPath id="c14"><rect x="389.00" y="384.60" width="237.30" height="21.80"/></clipPath>
<rect x="389.00" y="384.60" width="237.30" height="21.80" fill="#e2e2e2" stroke="none" stroke-width="1"/>
<g clip-path="url(#c14)">
<rect x="390.15" y="390.30" width="17.30" height="6.60" rx="3.30" fill="#000" opacity="0.291" filter="url(#f15)"/>
<rect x="390.40" y="391.50" width="16.80" height="4.20" rx="2.10" fill="#000" opacity="0.97" filter="url(#f1)"/>
<rect x="410.65" y="393.30" width="17.30" height="6.60" rx="3.30" fill="#000" opacity="0.291" filter="url(#f15)"/>
<rect x="410.90" y="394.50" width="16.80" height="4.20" rx="2.10" fill="#000" opacity="0.97" filter="url(#f1)"/>
<rect x="426.95" y="393.30" width="17.30" height="6.60" rx="3.30" fill="#000" opacity="0.291" filter="url(#f15)"/>
<rect x="427.20" y="394.50" width="16.80" height="4.20" rx="2.10" fill="#000" opacity="0.97" filter="url(#f1)"/>
<rect x="445.75" y="393.30" width="17.30" height="6.60" rx="3.30" fill="#000" opacity="0.291" filter="url(#f15)"/>
<rect x="446.00" y="394.50" width="16.80" height="4.20" rx="2.10" fill="#000" opacity="0.97" filter="url(#f1)"/>
<rect x="463.15" y="393.30" width="17.30" height="6.60" rx="3.30" fill="#000" opacity="0.291" filter="url(#f15)"/>
<rect x="463.40" y="394.50" width="16.80" height="4.20" rx="2.10" fill="#000" opacity="0.97" filter="url(#f1)"/>
<rect x="481.25" y="393.30" width="17.30" height="6.60" rx="3.30" fill="#000" opacity="0.291" filter="url(#f15)"/>
<rect x="481.50" y="394.50" width="16.80" height="4.20" rx="2.10" fill="#000" opacity="0.97" filter="url(#f1)"/>
<rect x="499.15" y="394.30" width="17.30" height="6.60" rx="3.30" fill="#000" opacity="0.291" filter="url(#f15)"/>
<rect x="499.40" y="395.50" width="16.80" height="4.20" rx="2.10" fill="#000" opacity="0.97" filter="url(#f1)"/>
<rect x="516.95" y="394.30" width="17.30" height="6.60" rx="3.30" fill="#000" opacity="0.291" filter="url(#f15)"/>
<rect x="517.20" y="395.50" width="16.80" height="4.20" rx="2.10" fill="#000" opacity="0.97" filter="url(#f1)"/>
<rect x="535.05" y="394.30" width="17.30" height="6.60" rx="3.30" fill="#000" opacity="0.291" filter="url(#f15)"/>
<rect x="535.30" y="395.50" width="16.80" height="4.20" rx="2.10" fill="#000" opacity="0.97" filter="url(#f1)"/>
<rect x="551.55" y="394.30" width="17.30" height="6.60" rx="3.30" fill="#000" opacity="0.291" filter="url(#f15)"/>
<rect x="551.80" y="395.50" width="16.80" height="4.20" rx="2.10" fill="#000" opacity="0.97" filter="url(#f1)"/>
<rect x="569.55" y="394.30" width="17.30" height="6.60" rx="3.30" fill="#000" opacity="0.291" filter="url(#f15)"/>
<rect x="569.80" y="395.50" width="16.80" height="4.20" rx="2.10" fill="#000" opacity="0.97" filter="url(#f1)"/>
<rect x="586.35" y="394.30" width="17.30" height="6.60" rx="3.30" fill="#000" opacity="0.291" filter="url(#f15)"/>
<rect x="586.60" y="395.50" width="16.80" height="4.20" rx="2.10" fill="#000" opacity="0.97" filter="url(#f1)"/>
<rect x="605.95" y="394.30" width="17.30" height="6.60" rx="3.30" fill="#000" opacity="0.291" filter="url(#f15)"/>
<rect x="606.20" y="395.50" width="16.80" height="4.20" rx="2.10" fill="#000" opacity="0.97" filter="url(#f1)"/>
</g>
<rect x="389.00" y="384.60" width="237.30" height="21.80" fill="none" stroke="#111" stroke-width="1.3"/>
<line x1="626.30" y1="336.00" x2="631.80" y2="336.00" stroke="#111" stroke-width="1.25"/>
<text x="633.00" y="339.10" font-size="8.6" fill="#1a1a1a">50</text>
<line x1="626.30" y1="378.30" x2="631.80" y2="378.30" stroke="#111" stroke-width="1.25"/>
<text x="633.00" y="381.40" font-size="8.6" fill="#1a1a1a">37</text>
<line x1="626.30" y1="391.20" x2="631.80" y2="391.20" stroke="#111" stroke-width="1.25"/>
<text x="633.00" y="394.30" font-size="8.6" fill="#1a1a1a">100</text>
<text x="262.70" y="447.40" font-size="15.8" font-weight="bold" fill="#111">G</text>
<text x="379.30" y="455.40" font-size="11.7" font-weight="bold" text-anchor="middle" fill="#111">Tram-Lest down signature (ds)</text>
<rect x="297.00" y="461.00" width="165.20" height="132.00" fill="none" stroke="#222" stroke-width="1.25"/>
<line x1="294.20" y1="587.70" x2="297.00" y2="587.70" stroke="#222" stroke-width="0.8"/>
<text x="290.90" y="587.70" font-size="8.6" text-anchor="middle" fill="#1a1a1a" transform="rotate(-90 290.90 587.70)">0.0</text>
<line x1="294.20" y1="563.46" x2="297.00" y2="563.46" stroke="#222" stroke-width="0.8"/>
<text x="290.90" y="563.46" font-size="8.6" text-anchor="middle" fill="#1a1a1a" transform="rotate(-90 290.90 563.46)">0.2</text>
<line x1="294.20" y1="539.22" x2="297.00" y2="539.22" stroke="#222" stroke-width="0.8"/>
<text x="290.90" y="539.22" font-size="8.6" text-anchor="middle" fill="#1a1a1a" transform="rotate(-90 290.90 539.22)">0.4</text>
<line x1="294.20" y1="514.98" x2="297.00" y2="514.98" stroke="#222" stroke-width="0.8"/>
<text x="290.90" y="514.98" font-size="8.6" text-anchor="middle" fill="#1a1a1a" transform="rotate(-90 290.90 514.98)">0.6</text>
<line x1="294.20" y1="490.74" x2="297.00" y2="490.74" stroke="#222" stroke-width="0.8"/>
<text x="290.90" y="490.74" font-size="8.6" text-anchor="middle" fill="#1a1a1a" transform="rotate(-90 290.90 490.74)">0.8</text>
<line x1="294.20" y1="466.50" x2="297.00" y2="466.50" stroke="#222" stroke-width="0.8"/>
<text x="290.90" y="466.50" font-size="8.6" text-anchor="middle" fill="#1a1a1a" transform="rotate(-90 290.90 466.50)">1.0</text>
<line x1="297.00" y1="466.50" x2="297.00" y2="587.70" stroke="#222" stroke-width="0.8"/>
<line x1="303.70" y1="593.00" x2="303.70" y2="595.80" stroke="#222" stroke-width="0.8"/>
<text x="303.70" y="605.20" font-size="8.8" text-anchor="middle" fill="#1a1a1a">0</text>
<line x1="329.00" y1="593.00" x2="329.00" y2="595.80" stroke="#222" stroke-width="0.8"/>
<text x="329.00" y="605.20" font-size="8.8" text-anchor="middle" fill="#1a1a1a">10</text>
<line x1="354.30" y1="593.00" x2="354.30" y2="595.80" stroke="#222" stroke-width="0.8"/>
<text x="354.30" y="605.20" font-size="8.8" text-anchor="middle" fill="#1a1a1a">20</text>
<line x1="379.60" y1="593.00" x2="379.60" y2="595.80" stroke="#222" stroke-width="0.8"/>
<text x="379.60" y="605.20" font-size="8.8" text-anchor="middle" fill="#1a1a1a">30</text>
<line x1="404.90" y1="593.00" x2="404.90" y2="595.80" stroke="#222" stroke-width="0.8"/>
<text x="404.90" y="605.20" font-size="8.8" text-anchor="middle" fill="#1a1a1a">40</text>
<line x1="430.20" y1="593.00" x2="430.20" y2="595.80" stroke="#222" stroke-width="0.8"/>
<text x="430.20" y="605.20" font-size="8.8" text-anchor="middle" fill="#1a1a1a">50</text>
<line x1="455.50" y1="593.00" x2="455.50" y2="595.80" stroke="#222" stroke-width="0.8"/>
<text x="455.50" y="605.20" font-size="8.8" text-anchor="middle" fill="#1a1a1a">60</text>
<text x="384.30" y="617.40" font-size="9.25" text-anchor="middle" fill="#1a1a1a">Time (months)</text>
<text x="275.60" y="527.50" font-size="8.8" text-anchor="middle" fill="#1a1a1a" transform="rotate(-90 275.60 527.50)">Survival</text>
<text x="455.80" y="474.80" font-size="7.7" text-anchor="end" fill="#1a1a1a">p=0.027</text>
<rect x="302.70" y="548.30" width="68.20" height="39.00" fill="#fff" stroke="#222" stroke-width="0.9"/>
<path d="M306.00,555.70 L317.10,555.70" fill="none" stroke="#23994a" stroke-width="1.0" stroke-dasharray="3.2,2.4"/>
<text x="321.50" y="558.60" font-size="8.4" fill="#1a1a1a">Mut_dsLow</text>
<path d="M306.00,564.10 L317.10,564.10" fill="none" stroke="#ee3d38" stroke-width="1.0"/>
<text x="321.50" y="567.00" font-size="8.4" fill="#1a1a1a">Mut_dsHigh</text>
<path d="M306.00,572.20 L317.10,572.20" fill="none" stroke="#35a85a" stroke-width="1.0" stroke-dasharray="0.9,2.6"/>
<text x="321.50" y="575.10" font-size="8.4" fill="#1a1a1a">Wt_dsLow</text>
<path d="M306.00,579.60 L317.10,579.60" fill="none" stroke="#ee3d38" stroke-width="1.0" stroke-dasharray="1,2,3.5,2"/>
<text x="321.50" y="582.50" font-size="8.4" fill="#1a1a1a">Wt_dsHigh</text>
<path d="M303.19,466.19 L327.27,466.19 L339.68,475.37 L370.70,475.37 L379.39,479.84 L381.87,482.82 L383.11,490.27 L388.08,500.69 L404.21,500.69 L405.45,511.36 L438.21,511.36 L438.96,523.03 L456.33,523.03" fill="none" stroke="#35a85a" stroke-width="1.0" stroke-dasharray="0.9,2.6"/>
<path d="M303.54,466.54 L304.85,466.54 L304.85,470.09 L314.71,470.09 L314.71,473.77 L324.56,473.77 L324.56,476.39 L329.42,476.39 L329.42,479.68 L339.41,479.68 L339.41,488.48 L351.50,488.48 L351.50,493.74 L367.00,493.74 L367.00,500.31 L378.83,500.31 L378.89,507.14 L386.34,507.14 L386.34,515.09 L407.43,515.09 L407.43,524.52 L441.93,524.52 L441.93,532.46 L448.88,532.46 L448.88,543.13 L452.61,543.13" fill="none" stroke="#23994a" stroke-width="1.0" stroke-dasharray="3.2,2.4"/>
<path d="M303.54,466.54 L309.45,466.54 L309.45,467.85 L314.71,467.85 L314.71,470.48 L317.34,470.48 L317.34,473.77 L323.25,473.77 L323.25,474.55 L330.47,474.55 L330.47,478.50 L337.04,478.50 L337.04,479.68 L340.99,479.68 L340.99,481.65 L344.93,481.65 L344.93,486.25 L347.56,486.25 L347.56,488.88 L352.15,488.88 L352.15,491.50 L356.10,491.50 L356.10,494.53 L360.69,494.53 L360.69,496.10 L363.32,496.10 L363.32,498.07 L368.58,498.07 L368.58,502.02 L371.21,502.02 L371.21,506.61 L375.15,506.61 L375.15,511.21 L379.09,511.21 L379.09,514.50 L386.83,514.59 L386.83,518.81 L393.04,518.81 L393.04,524.52 L407.93,524.52 L410.41,529.98 L426.55,530.47 L429.77,534.94 L429.77,543.13 L452.61,543.13" fill="none" stroke="#ee3d38" stroke-width="1.0" stroke-dasharray="1,2,3.5,2"/>
<path d="M303.54,466.54 L303.54,468.51 L307.48,468.51 L307.48,471.14 L310.50,471.14 L310.50,475.08 L313.39,475.08 L313.39,482.31 L316.68,482.31 L316.68,486.25 L326.53,486.25 L326.53,491.50 L331.53,491.50 L331.53,497.15 L340.99,497.15 L340.99,503.99 L342.30,503.99 L342.30,511.21 L356.10,511.21 L356.10,518.18 L363.32,518.18 L363.32,526.06 L373.18,526.06 L373.18,535.26 L430.27,534.94 L430.27,552.32 L455.83,552.32" fill="none" stroke="#ee3d38" stroke-width="1.0"/>
<text x="477.40" y="447.40" font-size="15.8" font-weight="bold" fill="#111">H</text>
<text x="590.30" y="456.80" font-size="11.7" font-weight="bold" text-anchor="middle" fill="#111">MYC</text>
<rect x="504.70" y="462.00" width="164.50" height="131.00" fill="none" stroke="#222" stroke-width="1.25"/>
<line x1="501.90" y1="587.70" x2="504.70" y2="587.70" stroke="#222" stroke-width="0.8"/>
<text x="500.00" y="587.70" font-size="8.6" text-anchor="middle" fill="#1a1a1a" transform="rotate(-90 500.00 587.70)">0.0</text>
<line x1="501.90" y1="563.46" x2="504.70" y2="563.46" stroke="#222" stroke-width="0.8"/>
<text x="500.00" y="563.46" font-size="8.6" text-anchor="middle" fill="#1a1a1a" transform="rotate(-90 500.00 563.46)">0.2</text>
<line x1="501.90" y1="539.22" x2="504.70" y2="539.22" stroke="#222" stroke-width="0.8"/>
<text x="500.00" y="539.22" font-size="8.6" text-anchor="middle" fill="#1a1a1a" transform="rotate(-90 500.00 539.22)">0.4</text>
<line x1="501.90" y1="514.98" x2="504.70" y2="514.98" stroke="#222" stroke-width="0.8"/>
<text x="500.00" y="514.98" font-size="8.6" text-anchor="middle" fill="#1a1a1a" transform="rotate(-90 500.00 514.98)">0.6</text>
<line x1="501.90" y1="490.74" x2="504.70" y2="490.74" stroke="#222" stroke-width="0.8"/>
<text x="500.00" y="490.74" font-size="8.6" text-anchor="middle" fill="#1a1a1a" transform="rotate(-90 500.00 490.74)">0.8</text>
<line x1="501.90" y1="466.50" x2="504.70" y2="466.50" stroke="#222" stroke-width="0.8"/>
<text x="500.00" y="466.50" font-size="8.6" text-anchor="middle" fill="#1a1a1a" transform="rotate(-90 500.00 466.50)">1.0</text>
<line x1="504.70" y1="466.50" x2="504.70" y2="587.70" stroke="#222" stroke-width="0.8"/>
<line x1="510.70" y1="593.00" x2="510.70" y2="595.80" stroke="#222" stroke-width="0.8"/>
<text x="510.70" y="605.20" font-size="8.8" text-anchor="middle" fill="#1a1a1a">0</text>
<line x1="536.05" y1="593.00" x2="536.05" y2="595.80" stroke="#222" stroke-width="0.8"/>
<text x="536.05" y="605.20" font-size="8.8" text-anchor="middle" fill="#1a1a1a">10</text>
<line x1="561.40" y1="593.00" x2="561.40" y2="595.80" stroke="#222" stroke-width="0.8"/>
<text x="561.40" y="605.20" font-size="8.8" text-anchor="middle" fill="#1a1a1a">20</text>
<line x1="586.75" y1="593.00" x2="586.75" y2="595.80" stroke="#222" stroke-width="0.8"/>
<text x="586.75" y="605.20" font-size="8.8" text-anchor="middle" fill="#1a1a1a">30</text>
<line x1="612.10" y1="593.00" x2="612.10" y2="595.80" stroke="#222" stroke-width="0.8"/>
<text x="612.10" y="605.20" font-size="8.8" text-anchor="middle" fill="#1a1a1a">40</text>
<line x1="637.45" y1="593.00" x2="637.45" y2="595.80" stroke="#222" stroke-width="0.8"/>
<text x="637.45" y="605.20" font-size="8.8" text-anchor="middle" fill="#1a1a1a">50</text>
<line x1="662.80" y1="593.00" x2="662.80" y2="595.80" stroke="#222" stroke-width="0.8"/>
<text x="662.80" y="605.20" font-size="8.8" text-anchor="middle" fill="#1a1a1a">60</text>
<text x="591.70" y="617.40" font-size="9.25" text-anchor="middle" fill="#1a1a1a">Time (months)</text>
<text x="486.00" y="527.50" font-size="8.8" text-anchor="middle" fill="#1a1a1a" transform="rotate(-90 486.00 527.50)">Survival</text>
<text x="662.50" y="474.80" font-size="7.7" text-anchor="end" fill="#1a1a1a">p=0.02</text>
<rect x="509.40" y="549.40" width="62.10" height="38.60" fill="#fff" stroke="#222" stroke-width="0.9"/>
<path d="M513.00,556.70 L524.50,556.70" fill="none" stroke="#23994a" stroke-width="1.0" stroke-dasharray="3.2,2.4"/>
<text x="529.50" y="559.60" font-size="8.4" fill="#1a1a1a">Mut_Low</text>
<path d="M513.00,564.50 L524.50,564.50" fill="none" stroke="#ee3d38" stroke-width="1.0"/>
<text x="529.50" y="567.40" font-size="8.4" fill="#1a1a1a">Mut_High</text>
<path d="M513.00,572.20 L524.50,572.20" fill="none" stroke="#35a85a" stroke-width="1.0" stroke-dasharray="0.9,2.6"/>
<text x="529.50" y="575.10" font-size="8.4" fill="#1a1a1a">Wt_Low</text>
<path d="M513.00,579.90 L524.50,579.90" fill="none" stroke="#ee3d38" stroke-width="1.0" stroke-dasharray="1,2,3.5,2"/>
<text x="529.50" y="582.80" font-size="8.4" fill="#1a1a1a">Wt_High</text>
<path d="M510.69,466.69 L519.37,466.69 L519.37,468.42 L535.51,468.42 L539.23,473.39 L545.44,476.62 L569.01,476.62 L572.74,480.34 L583.91,489.03 L591.35,492.75 L595.08,497.71 L595.08,507.14 L611.21,507.14 L612.45,517.57 L614.93,523.03 L633.55,523.03 L637.27,525.01 L637.27,534.45 L662.83,534.45" fill="none" stroke="#35a85a" stroke-width="1.0" stroke-dasharray="0.9,2.6"/>
<path d="M510.69,466.69 L520.62,466.69 L520.62,469.17 L526.08,469.17 L526.08,472.89 L533.03,472.89 L533.03,481.58 L539.23,481.58 L539.23,484.81 L563.31,484.81 L563.31,492.25 L593.34,492.25 L593.34,501.93 L614.93,501.93 L614.93,516.33 L656.38,516.33 L656.38,530.72 L662.83,530.72" fill="none" stroke="#23994a" stroke-width="1.0" stroke-dasharray="3.2,2.4"/>
<path d="M510.69,466.69 L516.89,467.43 L524.34,469.17 L526.82,472.89 L536.75,474.13 L539.23,479.10 L546.68,482.82 L552.88,486.54 L562.81,487.78 L562.81,496.47 L573.98,497.71 L578.94,502.68 L587.63,505.16 L591.35,511.36 L596.32,517.57 L601.28,523.03 L645.46,523.03 L645.46,533.70 L660.85,533.70" fill="none" stroke="#ee3d38" stroke-width="1.0" stroke-dasharray="1,2,3.5,2"/>
<path d="M510.69,466.69 L510.69,469.17 L514.41,469.17 L514.41,472.40 L518.13,472.40 L518.13,476.62 L521.36,476.62 L521.36,480.83 L524.34,480.83 L524.34,483.56 L536.25,483.56 L536.25,488.28 L546.68,488.28 L546.68,497.71 L547.92,497.71 L547.92,503.17 L549.65,503.17 L549.65,508.38 L559.58,508.38 L559.58,513.85 L570.26,513.85 L570.26,520.05 L574.47,520.05 L574.47,526.75 L580.18,526.75 L580.18,534.45 L586.39,534.45 L586.39,542.39 L637.27,542.39 L637.27,551.57 L650.18,551.57 L650.18,560.26 L662.83,560.26" fill="none" stroke="#ee3d38" stroke-width="1.0"/>
<text x="226.00" y="669.40" font-size="15.8" font-weight="bold" fill="#111">I</text>
<text x="323.40" y="675.20" font-size="11.6" font-weight="bold" text-anchor="middle" fill="#111">Down prots in combo</text>
<line x1="254.00" y1="680.90" x2="395.00" y2="680.90" stroke="#e9e9e9" stroke-width="0.6"/>
<text x="252.80" y="683.20" font-size="8.1" text-anchor="end" fill="#1a1a1a">0.0</text>
<line x1="254.00" y1="688.45" x2="395.00" y2="688.45" stroke="#e9e9e9" stroke-width="0.6"/>
<text x="252.80" y="690.75" font-size="8.1" text-anchor="end" fill="#1a1a1a">-0.1</text>
<line x1="254.00" y1="696.00" x2="395.00" y2="696.00" stroke="#e9e9e9" stroke-width="0.6"/>
<text x="252.80" y="698.30" font-size="8.1" text-anchor="end" fill="#1a1a1a">-0.2</text>
<line x1="254.00" y1="703.55" x2="395.00" y2="703.55" stroke="#e9e9e9" stroke-width="0.6"/>
<text x="252.80" y="705.85" font-size="8.1" text-anchor="end" fill="#1a1a1a">-0.3</text>
<line x1="254.00" y1="711.10" x2="395.00" y2="711.10" stroke="#e9e9e9" stroke-width="0.6"/>
<text x="252.80" y="713.40" font-size="8.1" text-anchor="end" fill="#1a1a1a">-0.4</text>
<line x1="254.00" y1="718.65" x2="395.00" y2="718.65" stroke="#e9e9e9" stroke-width="0.6"/>
<text x="252.80" y="720.95" font-size="8.1" text-anchor="end" fill="#1a1a1a">-0.5</text>
<line x1="254.00" y1="726.20" x2="395.00" y2="726.20" stroke="#e9e9e9" stroke-width="0.6"/>
<text x="252.80" y="728.50" font-size="8.1" text-anchor="end" fill="#1a1a1a">-0.6</text>
<line x1="254.00" y1="733.75" x2="395.00" y2="733.75" stroke="#e9e9e9" stroke-width="0.6"/>
<text x="252.80" y="736.05" font-size="8.1" text-anchor="end" fill="#1a1a1a">-0.7</text>
<line x1="254.00" y1="741.30" x2="395.00" y2="741.30" stroke="#e9e9e9" stroke-width="0.6"/>
<text x="252.80" y="743.60" font-size="8.1" text-anchor="end" fill="#1a1a1a">-0.8</text>
<line x1="277.50" y1="680.90" x2="277.50" y2="741.30" stroke="#ececec" stroke-width="0.6"/>
<line x1="301.00" y1="680.90" x2="301.00" y2="741.30" stroke="#ececec" stroke-width="0.6"/>
<line x1="324.50" y1="680.90" x2="324.50" y2="741.30" stroke="#ececec" stroke-width="0.6"/>
<line x1="348.00" y1="680.90" x2="348.00" y2="741.30" stroke="#ececec" stroke-width="0.6"/>
<line x1="371.50" y1="680.90" x2="371.50" y2="741.30" stroke="#ececec" stroke-width="0.6"/>
<line x1="395.00" y1="680.90" x2="395.00" y2="741.30" stroke="#ececec" stroke-width="0.6"/>
<line x1="252.80" y1="742.50" x2="397.00" y2="742.50" stroke="#b5b5b5" stroke-width="0.8"/>
<text x="235.40" y="711.60" font-size="9.2" text-anchor="middle" fill="#1a1a1a" transform="rotate(-90 235.40 711.60)">Enrichment score</text>
<text x="313.80" y="688.20" font-size="8.25" fill="#1a1a1a">NES: -2.725</text>
<text x="313.80" y="698.10" font-size="8.25" fill="#1a1a1a">FDR q value: 0.0</text>
<text x="313.80" y="708.00" font-size="8.25" fill="#1a1a1a">FEWER p-value: 0.0</text>
<path d="M253.98,680.88 L360.55,738.39 L361.72,737.81 L362.88,738.39 L364.34,737.23 L365.80,736.64 L366.97,737.52 L368.72,738.10 L370.18,737.23 L371.64,738.10 L373.10,737.52 L374.56,736.06 L375.73,734.89 L376.90,733.72 L378.07,732.26 L379.23,731.09 L380.11,729.05 L380.99,727.01 L381.86,724.67 L382.45,721.17 L383.03,717.66 L383.61,713.58 L384.20,709.49 L384.78,706.57 L385.66,702.77 L386.24,699.85 L386.82,697.81 L387.41,694.31 L387.99,691.97 L388.87,690.22 L389.74,688.18 L390.62,686.72 L391.20,683.80 L391.79,680.88" fill="none" stroke="#55ab2a" stroke-width="1.35" stroke-linejoin="round"/>
<line x1="357.63" y1="742.80" x2="357.63" y2="762.60" stroke="#111" stroke-width="0.6"/>
<line x1="361.13" y1="742.80" x2="361.13" y2="762.60" stroke="#111" stroke-width="0.6"/>
<line x1="363.47" y1="742.80" x2="363.47" y2="762.60" stroke="#111" stroke-width="0.6"/>
<line x1="364.93" y1="742.80" x2="364.93" y2="762.60" stroke="#111" stroke-width="0.6"/>
<line x1="369.89" y1="742.80" x2="369.89" y2="762.60" stroke="#111" stroke-width="0.6"/>
<line x1="372.23" y1="742.80" x2="372.23" y2="762.60" stroke="#111" stroke-width="0.6"/>
<line x1="374.56" y1="742.80" x2="374.56" y2="762.60" stroke="#111" stroke-width="0.6"/>
<line x1="376.02" y1="742.80" x2="376.02" y2="762.60" stroke="#111" stroke-width="0.6"/>
<line x1="378.07" y1="742.80" x2="378.07" y2="762.60" stroke="#111" stroke-width="0.6"/>
<line x1="379.53" y1="742.80" x2="379.53" y2="762.60" stroke="#111" stroke-width="0.6"/>
<line x1="386.82" y1="742.80" x2="386.82" y2="762.60" stroke="#111" stroke-width="0.6"/>
<line x1="388.87" y1="742.80" x2="388.87" y2="762.60" stroke="#111" stroke-width="0.6"/>
<line x1="390.62" y1="742.80" x2="390.62" y2="762.60" stroke="#111" stroke-width="0.6"/>
<line x1="380.99" y1="742.80" x2="380.99" y2="762.60" stroke="#111" stroke-width="1.0"/>
<line x1="381.86" y1="742.80" x2="381.86" y2="762.60" stroke="#111" stroke-width="1.0"/>
<line x1="382.74" y1="742.80" x2="382.74" y2="762.60" stroke="#111" stroke-width="1.0"/>
<line x1="383.61" y1="742.80" x2="383.61" y2="762.60" stroke="#111" stroke-width="1.0"/>
<line x1="384.49" y1="742.80" x2="384.49" y2="762.60" stroke="#111" stroke-width="1.0"/>
<line x1="385.36" y1="742.80" x2="385.36" y2="762.60" stroke="#111" stroke-width="1.0"/>
<line x1="254.00" y1="762.90" x2="399.00" y2="762.90" stroke="#c4c4c4" stroke-width="0.7"/>
<rect x="253.98" y="763.20" width="24.33" height="4.70" fill="#e7344c" stroke="none" stroke-width="1"/>
<rect x="278.21" y="763.20" width="9.44" height="4.70" fill="#e34569" stroke="none" stroke-width="1"/>
<rect x="287.55" y="763.20" width="13.24" height="4.70" fill="#e9546f" stroke="none" stroke-width="1"/>
<rect x="300.69" y="763.20" width="16.16" height="4.70" fill="#f0a3c9" stroke="none" stroke-width="1"/>
<rect x="316.75" y="763.20" width="16.16" height="4.70" fill="#d2bde2" stroke="none" stroke-width="1"/>
<rect x="332.81" y="763.20" width="17.62" height="4.70" fill="#b9a3d9" stroke="none" stroke-width="1"/>
<rect x="350.33" y="763.20" width="11.78" height="4.70" fill="#8b76c4" stroke="none" stroke-width="1"/>
<rect x="362.01" y="763.20" width="28.71" height="4.70" fill="#4a3aa2" stroke="none" stroke-width="1"/>
<text x="262.20" y="776.20" font-size="8.2" font-weight="bold" fill="#c8203c">UP</text>
<text x="359.10" y="776.20" font-size="8.2" font-weight="bold" fill="#2a2c92">DOWN</text>
<text x="221.80" y="784.00" font-size="15.8" font-weight="bold" fill="#111">J</text>
<text x="325.00" y="790.40" font-size="11.6" font-weight="bold" text-anchor="middle" fill="#111">Up prots in combo</text>
<line x1="254.00" y1="797.50" x2="395.00" y2="797.50" stroke="#e9e9e9" stroke-width="0.6"/>
<text x="252.80" y="799.80" font-size="8.1" text-anchor="end" fill="#1a1a1a">0.8</text>
<line x1="254.00" y1="804.80" x2="395.00" y2="804.80" stroke="#e9e9e9" stroke-width="0.6"/>
<text x="252.80" y="807.10" font-size="8.1" text-anchor="end" fill="#1a1a1a">0.7</text>
<line x1="254.00" y1="812.10" x2="395.00" y2="812.10" stroke="#e9e9e9" stroke-width="0.6"/>
<text x="252.80" y="814.40" font-size="8.1" text-anchor="end" fill="#1a1a1a">0.6</text>
<line x1="254.00" y1="819.40" x2="395.00" y2="819.40" stroke="#e9e9e9" stroke-width="0.6"/>
<text x="252.80" y="821.70" font-size="8.1" text-anchor="end" fill="#1a1a1a">0.5</text>
<line x1="254.00" y1="826.70" x2="395.00" y2="826.70" stroke="#e9e9e9" stroke-width="0.6"/>
<text x="252.80" y="829.00" font-size="8.1" text-anchor="end" fill="#1a1a1a">0.4</text>
<line x1="254.00" y1="834.00" x2="395.00" y2="834.00" stroke="#e9e9e9" stroke-width="0.6"/>
<text x="252.80" y="836.30" font-size="8.1" text-anchor="end" fill="#1a1a1a">0.3</text>
<line x1="254.00" y1="841.30" x2="395.00" y2="841.30" stroke="#e9e9e9" stroke-width="0.6"/>
<text x="252.80" y="843.60" font-size="8.1" text-anchor="end" fill="#1a1a1a">0.2</text>
<line x1="254.00" y1="848.60" x2="395.00" y2="848.60" stroke="#e9e9e9" stroke-width="0.6"/>
<text x="252.80" y="850.90" font-size="8.1" text-anchor="end" fill="#1a1a1a">0.1</text>
<line x1="254.00" y1="855.90" x2="395.00" y2="855.90" stroke="#e9e9e9" stroke-width="0.6"/>
<text x="252.80" y="858.20" font-size="8.1" text-anchor="end" fill="#1a1a1a">0.0</text>
<line x1="277.50" y1="797.50" x2="277.50" y2="855.90" stroke="#ececec" stroke-width="0.6"/>
<line x1="301.00" y1="797.50" x2="301.00" y2="855.90" stroke="#ececec" stroke-width="0.6"/>
<line x1="324.50" y1="797.50" x2="324.50" y2="855.90" stroke="#ececec" stroke-width="0.6"/>
<line x1="348.00" y1="797.50" x2="348.00" y2="855.90" stroke="#ececec" stroke-width="0.6"/>
<line x1="371.50" y1="797.50" x2="371.50" y2="855.90" stroke="#ececec" stroke-width="0.6"/>
<line x1="395.00" y1="797.50" x2="395.00" y2="855.90" stroke="#ececec" stroke-width="0.6"/>
<line x1="252.80" y1="857.10" x2="397.00" y2="857.10" stroke="#b5b5b5" stroke-width="0.8"/>
<text x="235.40" y="828.00" font-size="9.2" text-anchor="middle" fill="#1a1a1a" transform="rotate(-90 235.40 828.00)">Enrichment score</text>
<text x="314.70" y="805.60" font-size="8.25" fill="#1a1a1a">NES: -2.742</text>
<text x="314.70" y="815.50" font-size="8.25" fill="#1a1a1a">FDR q value: 0.0</text>
<text x="314.70" y="825.40" font-size="8.25" fill="#1a1a1a">FEWER p-value: 0.0</text>
<path d="M253.98,855.91 L253.98,850.95 L254.27,846.57 L254.85,839.27 L255.44,831.09 L256.02,827.59 L256.90,822.34 L257.77,818.25 L258.36,814.74 L259.53,812.12 L260.69,810.36 L262.15,808.91 L264.20,807.45 L265.36,806.57 L266.53,805.99 L267.41,803.07 L268.58,801.31 L270.04,799.85 L271.50,798.98 L273.54,799.27 L275.88,799.27 L277.34,799.85 L278.80,799.56 L280.26,800.15 L366.39,843.65 L367.26,843.36 L368.14,844.23 L390.62,856.20" fill="none" stroke="#55ab2a" stroke-width="1.35" stroke-linejoin="round"/>
<line x1="254.23" y1="859.70" x2="254.23" y2="880.70" stroke="#111" stroke-width="0.55"/>
<line x1="254.57" y1="859.70" x2="254.57" y2="880.70" stroke="#111" stroke-width="0.55"/>
<line x1="255.19" y1="859.70" x2="255.19" y2="880.70" stroke="#111" stroke-width="0.55"/>
<line x1="255.22" y1="859.70" x2="255.22" y2="880.70" stroke="#111" stroke-width="0.55"/>
<line x1="256.84" y1="859.70" x2="256.84" y2="880.70" stroke="#111" stroke-width="0.55"/>
<line x1="258.43" y1="859.70" x2="258.43" y2="880.70" stroke="#111" stroke-width="0.55"/>
<line x1="258.49" y1="859.70" x2="258.49" y2="880.70" stroke="#111" stroke-width="0.55"/>
<line x1="258.90" y1="859.70" x2="258.90" y2="880.70" stroke="#111" stroke-width="0.55"/>
<line x1="259.70" y1="859.70" x2="259.70" y2="880.70" stroke="#111" stroke-width="0.55"/>
<line x1="261.00" y1="859.70" x2="261.00" y2="880.70" stroke="#111" stroke-width="0.55"/>
<line x1="261.47" y1="859.70" x2="261.47" y2="880.70" stroke="#111" stroke-width="0.55"/>
<line x1="262.90" y1="859.70" x2="262.90" y2="880.70" stroke="#111" stroke-width="0.55"/>
<line x1="262.95" y1="859.70" x2="262.95" y2="880.70" stroke="#111" stroke-width="0.55"/>
<line x1="263.02" y1="859.70" x2="263.02" y2="880.70" stroke="#111" stroke-width="0.55"/>
<line x1="263.91" y1="859.70" x2="263.91" y2="880.70" stroke="#111" stroke-width="0.55"/>
<line x1="264.31" y1="859.70" x2="264.31" y2="880.70" stroke="#111" stroke-width="0.55"/>
<line x1="265.20" y1="859.70" x2="265.20" y2="880.70" stroke="#111" stroke-width="0.55"/>
<line x1="265.44" y1="859.70" x2="265.44" y2="880.70" stroke="#111" stroke-width="0.55"/>
<line x1="265.85" y1="859.70" x2="265.85" y2="880.70" stroke="#111" stroke-width="0.55"/>
<line x1="266.03" y1="859.70" x2="266.03" y2="880.70" stroke="#111" stroke-width="0.55"/>
<line x1="266.11" y1="859.70" x2="266.11" y2="880.70" stroke="#111" stroke-width="0.55"/>
<line x1="266.72" y1="859.70" x2="266.72" y2="880.70" stroke="#111" stroke-width="0.55"/>
<line x1="267.53" y1="859.70" x2="267.53" y2="880.70" stroke="#111" stroke-width="0.55"/>
<line x1="267.62" y1="859.70" x2="267.62" y2="880.70" stroke="#111" stroke-width="0.55"/>
<line x1="268.05" y1="859.70" x2="268.05" y2="880.70" stroke="#111" stroke-width="0.55"/>
<line x1="268.37" y1="859.70" x2="268.37" y2="880.70" stroke="#111" stroke-width="0.55"/>
<line x1="269.18" y1="859.70" x2="269.18" y2="880.70" stroke="#111" stroke-width="0.55"/>
<line x1="269.85" y1="859.70" x2="269.85" y2="880.70" stroke="#111" stroke-width="0.55"/>
<line x1="269.87" y1="859.70" x2="269.87" y2="880.70" stroke="#111" stroke-width="0.55"/>
<line x1="270.40" y1="859.70" x2="270.40" y2="880.70" stroke="#111" stroke-width="0.55"/>
<line x1="270.45" y1="859.70" x2="270.45" y2="880.70" stroke="#111" stroke-width="0.55"/>
<line x1="270.66" y1="859.70" x2="270.66" y2="880.70" stroke="#111" stroke-width="0.55"/>
<line x1="271.46" y1="859.70" x2="271.46" y2="880.70" stroke="#111" stroke-width="0.55"/>
<line x1="272.87" y1="859.70" x2="272.87" y2="880.70" stroke="#111" stroke-width="0.55"/>
<line x1="254.27" y1="859.70" x2="254.27" y2="880.70" stroke="#111" stroke-width="0.55"/>
<line x1="254.71" y1="859.70" x2="254.71" y2="880.70" stroke="#111" stroke-width="0.55"/>
<line x1="255.15" y1="859.70" x2="255.15" y2="880.70" stroke="#111" stroke-width="0.55"/>
<line x1="255.73" y1="859.70" x2="255.73" y2="880.70" stroke="#111" stroke-width="0.55"/>
<line x1="256.31" y1="859.70" x2="256.31" y2="880.70" stroke="#111" stroke-width="0.55"/>
<line x1="256.90" y1="859.70" x2="256.90" y2="880.70" stroke="#111" stroke-width="0.55"/>
<line x1="278.80" y1="859.70" x2="278.80" y2="880.70" stroke="#111" stroke-width="0.55"/>
<line x1="299.82" y1="859.70" x2="299.82" y2="880.70" stroke="#111" stroke-width="0.55"/>
<line x1="324.64" y1="859.70" x2="324.64" y2="880.70" stroke="#111" stroke-width="0.55"/>
<line x1="335.15" y1="859.70" x2="335.15" y2="880.70" stroke="#111" stroke-width="0.55"/>
<line x1="366.39" y1="859.70" x2="366.39" y2="880.70" stroke="#111" stroke-width="0.55"/>
<line x1="254.00" y1="880.70" x2="399.00" y2="880.70" stroke="#c4c4c4" stroke-width="0.7"/>
<rect x="253.98" y="881.00" width="24.33" height="4.10" fill="#e7344c" stroke="none" stroke-width="1"/>
<rect x="278.21" y="881.00" width="9.44" height="4.10" fill="#e34569" stroke="none" stroke-width="1"/>
<rect x="287.55" y="881.00" width="13.24" height="4.10" fill="#e9546f" stroke="none" stroke-width="1"/>
<rect x="300.69" y="881.00" width="16.16" height="4.10" fill="#f0a3c9" stroke="none" stroke-width="1"/>
<rect x="316.75" y="881.00" width="16.16" height="4.10" fill="#d2bde2" stroke="none" stroke-width="1"/>
<rect x="332.81" y="881.00" width="17.62" height="4.10" fill="#b9a3d9" stroke="none" stroke-width="1"/>
<rect x="350.33" y="881.00" width="11.78" height="4.10" fill="#8b76c4" stroke="none" stroke-width="1"/>
<rect x="362.01" y="881.00" width="28.71" height="4.10" fill="#4a3aa2" stroke="none" stroke-width="1"/>
<text x="262.70" y="893.90" font-size="8.2" font-weight="bold" fill="#c8203c">UP</text>
<text x="364.90" y="893.90" font-size="8.2" font-weight="bold" fill="#2a2c92">DOWN</text>
<text x="6.40" y="669.20" font-size="15.8" font-weight="bold" fill="#111">B</text>
<text x="90.00" y="676.40" font-size="11.3" font-weight="bold" text-anchor="middle" fill="#111">H1792</text>
<text x="165.20" y="676.40" font-size="11.3" font-weight="bold" text-anchor="middle" fill="#111">H2009</text>
<line x1="58.80" y1="681.20" x2="120.20" y2="681.20" stroke="#111" stroke-width="1.25"/>
<line x1="133.60" y1="681.20" x2="195.40" y2="681.20" stroke="#111" stroke-width="1.25"/>
<text x="65.30" y="714.50" font-size="9.0" fill="#1a1a1a" transform="rotate(-90 65.30 714.50)">Ctrl</text>
<text x="84.80" y="714.50" font-size="9.0" fill="#1a1a1a" transform="rotate(-90 84.80 714.50)">Tram</text>
<text x="102.90" y="714.50" font-size="9.0" fill="#1a1a1a" transform="rotate(-90 102.90 714.50)">Lest</text>
<text x="119.70" y="714.50" font-size="9.0" fill="#1a1a1a" transform="rotate(-90 119.70 714.50)">Combo</text>
<text x="140.90" y="714.50" font-size="9.0" fill="#1a1a1a" transform="rotate(-90 140.90 714.50)">Ctrl</text>
<text x="160.40" y="714.50" font-size="9.0" fill="#1a1a1a" transform="rotate(-90 160.40 714.50)">Tram</text>
<text x="177.80" y="714.50" font-size="9.0" fill="#1a1a1a" transform="rotate(-90 177.80 714.50)">Lest</text>
<text x="197.00" y="714.50" font-size="9.0" fill="#1a1a1a" transform="rotate(-90 197.00 714.50)">Combo</text>
<text x="62.10" y="726.50" font-size="7.7" text-anchor="middle" fill="#1a1a1a">1</text>
<text x="81.60" y="726.50" font-size="7.7" text-anchor="middle" fill="#1a1a1a">1</text>
<text x="99.70" y="726.50" font-size="7.7" text-anchor="middle" fill="#1a1a1a">1</text>
<text x="116.50" y="726.50" font-size="7.7" text-anchor="middle" fill="#1a1a1a">0.7</text>
<text x="137.70" y="726.50" font-size="7.7" text-anchor="middle" fill="#1a1a1a">1</text>
<text x="157.20" y="726.50" font-size="7.7" text-anchor="middle" fill="#1a1a1a">0.8</text>
<text x="174.60" y="726.50" font-size="7.7" text-anchor="middle" fill="#1a1a1a">0.9</text>
<text x="193.80" y="726.50" font-size="7.7" text-anchor="middle" fill="#1a1a1a">0.6</text>
<text x="205.50" y="713.60" font-size="8.6" fill="#1a1a1a">KDa</text>
<text x="48.70" y="744.40" font-size="9.2" text-anchor="end" fill="#1a1a1a">MYC</text>
<text x="48.7" y="767.4" font-size="9.2" text-anchor="end" fill="#1a1a1a"><tspan font-family="'Liberation Serif', serif" font-size="9.8">β</tspan>-TUBULIN</text>
<clipPath id="c15"><rect x="51.10" y="729.30" width="74.20" height="23.50"/></clipPath>
<rect x="51.10" y="729.30" width="74.20" height="23.50" fill="#dcdcdc" stroke="none" stroke-width="1"/>
<g clip-path="url(#c15)">
<rect x="48.00" y="733.00" width="80.00" height="16.00" rx="8.00" fill="#000" opacity="0.12" filter="url(#f3)"/>
<rect x="57.05" y="741.40" width="15.50" height="8.00" rx="4.00" fill="#000" opacity="0.216" filter="url(#f15)"/>
<rect x="57.30" y="742.60" width="15.00" height="5.60" rx="2.80" fill="#000" opacity="0.72" filter="url(#f1)"/>
<rect x="55.40" y="737.00" width="18.00" height="13.00" rx="6.50" fill="#000" opacity="0.32" filter="url(#f3)"/>
<rect x="63.50" y="743.35" width="8.00" height="4.50" rx="2.25" fill="#000" opacity="0.5" filter="url(#f1)"/>
<rect x="73.55" y="740.00" width="16.50" height="7.60" rx="3.80" fill="#000" opacity="0.285" filter="url(#f15)"/>
<rect x="73.80" y="741.20" width="16.00" height="5.20" rx="2.60" fill="#000" opacity="0.95" filter="url(#f1)"/>
<rect x="72.60" y="735.50" width="18.00" height="12.00" rx="6.00" fill="#000" opacity="0.3" filter="url(#f3)"/>
<rect x="90.65" y="739.20" width="16.50" height="8.00" rx="4.00" fill="#000" opacity="0.288" filter="url(#f15)"/>
<rect x="90.90" y="740.40" width="16.00" height="5.60" rx="2.80" fill="#000" opacity="0.96" filter="url(#f1)"/>
<rect x="89.80" y="733.00" width="18.00" height="13.00" rx="6.50" fill="#000" opacity="0.36" filter="url(#f3)"/>
<rect x="107.75" y="740.80" width="13.50" height="6.00" rx="3.00" fill="#000" opacity="0.15" filter="url(#f15)"/>
<rect x="108.00" y="742.00" width="13.00" height="3.60" rx="1.80" fill="#000" opacity="0.5" filter="url(#f1)"/>
<rect x="106.80" y="736.00" width="15.00" height="10.00" rx="5.00" fill="#000" opacity="0.2" filter="url(#f3)"/>
</g>
<rect x="51.10" y="729.30" width="74.20" height="23.50" fill="none" stroke="#111" stroke-width="1.3"/>
<clipPath id="c16"><rect x="51.10" y="755.20" width="74.20" height="16.70"/></clipPath>
<rect x="51.10" y="755.20" width="74.20" height="16.70" fill="#dadada" stroke="none" stroke-width="1"/>
<g clip-path="url(#c16)">
<rect x="53.50" y="757.20" width="18.00" height="6.00" rx="3.00" fill="#000" opacity="0.285" filter="url(#f15)"/>
<rect x="53.75" y="758.40" width="17.50" height="3.60" rx="1.80" fill="#000" opacity="0.95" filter="url(#f1)"/>
<rect x="72.00" y="759.40" width="18.00" height="6.00" rx="3.00" fill="#000" opacity="0.285" filter="url(#f15)"/>
<rect x="72.25" y="760.60" width="17.50" height="3.60" rx="1.80" fill="#000" opacity="0.95" filter="url(#f1)"/>
<rect x="89.50" y="760.00" width="18.00" height="6.00" rx="3.00" fill="#000" opacity="0.285" filter="url(#f15)"/>
<rect x="89.75" y="761.20" width="17.50" height="3.60" rx="1.80" fill="#000" opacity="0.95" filter="url(#f1)"/>
<rect x="106.20" y="760.20" width="18.00" height="6.00" rx="3.00" fill="#000" opacity="0.285" filter="url(#f15)"/>
<rect x="106.45" y="761.40" width="17.50" height="3.60" rx="1.80" fill="#000" opacity="0.95" filter="url(#f1)"/>
<rect x="51.00" y="759.00" width="74.00" height="8.00" rx="4.00" fill="#000" opacity="0.2" filter="url(#f2)"/>
</g>
<rect x="51.10" y="755.20" width="74.20" height="16.70" fill="none" stroke="#111" stroke-width="1.3"/>
<clipPath id="c17"><rect x="127.50" y="729.30" width="76.60" height="23.50"/></clipPath>
<rect x="127.50" y="729.30" width="76.60" height="23.50" fill="#dadada" stroke="none" stroke-width="1"/>
<g clip-path="url(#c17)">
<rect x="126.00" y="731.00" width="80.00" height="18.00" rx="9.00" fill="#000" opacity="0.16" filter="url(#f3)"/>
<rect x="127.85" y="741.30" width="18.50" height="9.40" rx="4.70" fill="#000" opacity="0.291" filter="url(#f15)"/>
<rect x="128.10" y="742.50" width="18.00" height="7.00" rx="3.50" fill="#000" opacity="0.97" filter="url(#f1)"/>
<rect x="127.10" y="735.50" width="20.00" height="15.00" rx="7.50" fill="#000" opacity="0.38" filter="url(#f3)"/>
<rect x="146.85" y="741.80" width="17.50" height="8.40" rx="4.20" fill="#000" opacity="0.288" filter="url(#f15)"/>
<rect x="147.10" y="743.00" width="17.00" height="6.00" rx="3.00" fill="#000" opacity="0.96" filter="url(#f1)"/>
<rect x="146.10" y="736.00" width="19.00" height="14.00" rx="7.00" fill="#000" opacity="0.34" filter="url(#f3)"/>
<rect x="165.75" y="741.00" width="17.50" height="8.80" rx="4.40" fill="#000" opacity="0.288" filter="url(#f15)"/>
<rect x="166.00" y="742.20" width="17.00" height="6.40" rx="3.20" fill="#000" opacity="0.96" filter="url(#f1)"/>
<rect x="165.00" y="732.00" width="19.00" height="16.00" rx="8.00" fill="#000" opacity="0.42" filter="url(#f3)"/>
<rect x="186.15" y="742.10" width="14.50" height="6.60" rx="3.30" fill="#000" opacity="0.24" filter="url(#f15)"/>
<rect x="186.40" y="743.30" width="14.00" height="4.20" rx="2.10" fill="#000" opacity="0.8" filter="url(#f1)"/>
<rect x="185.40" y="730.50" width="16.00" height="15.00" rx="7.50" fill="#000" opacity="0.34" filter="url(#f3)"/>
</g>
<rect x="127.50" y="729.30" width="76.60" height="23.50" fill="none" stroke="#111" stroke-width="1.3"/>
<clipPath id="c18"><rect x="127.50" y="755.20" width="76.60" height="16.70"/></clipPath>
<rect x="127.50" y="755.20" width="76.60" height="16.70" fill="#d4d4d4" stroke="none" stroke-width="1"/>
<g clip-path="url(#c18)">
<rect x="128.00" y="759.80" width="19.00" height="7.60" rx="3.80" fill="#000" opacity="0.291" filter="url(#f15)"/>
<rect x="128.25" y="761.00" width="18.50" height="5.20" rx="2.60" fill="#000" opacity="0.97" filter="url(#f1)"/>
<rect x="146.50" y="759.80" width="19.00" height="7.60" rx="3.80" fill="#000" opacity="0.291" filter="url(#f15)"/>
<rect x="146.75" y="761.00" width="18.50" height="5.20" rx="2.60" fill="#000" opacity="0.97" filter="url(#f1)"/>
<rect x="165.00" y="759.80" width="19.00" height="7.60" rx="3.80" fill="#000" opacity="0.291" filter="url(#f15)"/>
<rect x="165.25" y="761.00" width="18.50" height="5.20" rx="2.60" fill="#000" opacity="0.97" filter="url(#f1)"/>
<rect x="183.50" y="759.80" width="19.00" height="7.60" rx="3.80" fill="#000" opacity="0.291" filter="url(#f15)"/>
<rect x="183.75" y="761.00" width="18.50" height="5.20" rx="2.60" fill="#000" opacity="0.97" filter="url(#f1)"/>
<rect x="128.00" y="759.60" width="76.00" height="8.00" rx="4.00" fill="#000" opacity="0.3" filter="url(#f2)"/>
</g>
<rect x="127.50" y="755.20" width="76.60" height="16.70" fill="none" stroke="#111" stroke-width="1.3"/>
<line x1="204.10" y1="736.60" x2="209.60" y2="736.60" stroke="#111" stroke-width="1.25"/>
<text x="210.80" y="739.70" font-size="8.6" fill="#1a1a1a">50</text>
<line x1="204.10" y1="764.20" x2="209.60" y2="764.20" stroke="#111" stroke-width="1.25"/>
<text x="210.80" y="767.30" font-size="8.6" fill="#1a1a1a">50</text>
<text x="404.80" y="669.10" font-size="15.8" font-weight="bold" fill="#111">K</text>
<text x="459.40" y="676.40" font-size="11.3" font-weight="bold" text-anchor="middle" fill="#111">H1792</text>
<text x="459.40" y="690.20" font-size="11.3" font-weight="bold" text-anchor="middle" fill="#111">-TR</text>
<text x="497.40" y="676.40" font-size="11.3" font-weight="bold" text-anchor="middle" fill="#111">H2009</text>
<text x="497.40" y="690.20" font-size="11.3" font-weight="bold" text-anchor="middle" fill="#111">-TR</text>
<line x1="444.90" y1="696.20" x2="473.40" y2="696.20" stroke="#111" stroke-width="1.1"/>
<line x1="484.30" y1="696.20" x2="513.20" y2="696.20" stroke="#111" stroke-width="1.1"/>
<text x="447.90" y="747.50" font-size="9.0" fill="#1a1a1a" transform="rotate(-90 447.90 747.50)">Tram</text>
<text x="473.70" y="747.50" font-size="9.0" fill="#1a1a1a" transform="rotate(-90 473.70 747.50)">Tram-Lest</text>
<text x="493.90" y="747.50" font-size="9.0" fill="#1a1a1a" transform="rotate(-90 493.90 747.50)">Tram</text>
<text x="518.20" y="747.50" font-size="9.0" fill="#1a1a1a" transform="rotate(-90 518.20 747.50)">Tram-Lest</text>
<text x="525.90" y="747.20" font-size="8.6" fill="#1a1a1a">KDa</text>
<text x="444.30" y="758.90" font-size="7.7" text-anchor="middle" fill="#1a1a1a">1</text>
<text x="468.40" y="758.90" font-size="7.7" text-anchor="middle" fill="#1a1a1a">0.5</text>
<text x="490.20" y="758.90" font-size="7.7" text-anchor="middle" fill="#1a1a1a">1</text>
<text x="513.20" y="758.90" font-size="7.7" text-anchor="middle" fill="#1a1a1a">0.8</text>
<text x="426.60" y="776.80" font-size="9.3" text-anchor="end" fill="#1a1a1a">MYC</text>
<text x="426.60" y="798.20" font-size="9.3" text-anchor="end" fill="#1a1a1a">ACTIN</text>
<clipPath id="c19"><rect x="430.30" y="760.70" width="94.70" height="23.70"/></clipPath>
<rect x="430.30" y="760.70" width="94.70" height="23.70" fill="#e0e0e0" stroke="none" stroke-width="1"/>
<g clip-path="url(#c19)">
<rect x="432.00" y="766.00" width="92.00" height="13.00" rx="6.50" fill="#000" opacity="0.1" filter="url(#f3)"/>
<rect x="431.75" y="769.70" width="20.50" height="6.60" rx="3.30" fill="#000" opacity="0.18" filter="url(#f15)" transform="rotate(5 442.00 773.00)"/>
<rect x="432.00" y="770.90" width="20.00" height="4.20" rx="2.10" fill="#000" opacity="0.6" filter="url(#f1)" transform="rotate(5 442.00 773.00)"/>
<rect x="431.00" y="768.00" width="22.00" height="10.00" rx="5.00" fill="#000" opacity="0.22" filter="url(#f2)"/>
<rect x="457.25" y="770.00" width="16.50" height="6.00" rx="3.00" fill="#000" opacity="0.078" filter="url(#f15)"/>
<rect x="457.50" y="771.20" width="16.00" height="3.60" rx="1.80" fill="#000" opacity="0.26" filter="url(#f1)"/>
<rect x="456.50" y="768.50" width="18.00" height="9.00" rx="4.50" fill="#000" opacity="0.1" filter="url(#f2)"/>
<rect x="476.95" y="770.10" width="20.50" height="7.00" rx="3.50" fill="#000" opacity="0.258" filter="url(#f15)"/>
<rect x="477.20" y="771.30" width="20.00" height="4.60" rx="2.30" fill="#000" opacity="0.86" filter="url(#f1)"/>
<rect x="476.20" y="767.50" width="22.00" height="11.00" rx="5.50" fill="#000" opacity="0.26" filter="url(#f2)"/>
<rect x="500.75" y="769.30" width="20.50" height="7.00" rx="3.50" fill="#000" opacity="0.24" filter="url(#f15)" transform="rotate(-6 511.00 772.80)"/>
<rect x="501.00" y="770.50" width="20.00" height="4.60" rx="2.30" fill="#000" opacity="0.8" filter="url(#f1)" transform="rotate(-6 511.00 772.80)"/>
<rect x="500.00" y="767.10" width="22.00" height="11.00" rx="5.50" fill="#000" opacity="0.24" filter="url(#f2)"/>
</g>
<rect x="430.30" y="760.70" width="94.70" height="23.70" fill="none" stroke="#111" stroke-width="1.3"/>
<clipPath id="c20"><rect x="430.30" y="787.10" width="94.70" height="24.20"/></clipPath>
<rect x="430.30" y="787.10" width="94.70" height="24.20" fill="#e4e4e4" stroke="none" stroke-width="1"/>
<g clip-path="url(#c20)">
<rect x="435.75" y="792.80" width="21.50" height="7.60" rx="3.80" fill="#000" opacity="0.291" filter="url(#f15)"/>
<rect x="436.00" y="794.00" width="21.00" height="5.20" rx="2.60" fill="#000" opacity="0.97" filter="url(#f1)"/>
<rect x="457.65" y="794.60" width="21.50" height="7.60" rx="3.80" fill="#000" opacity="0.291" filter="url(#f15)"/>
<rect x="457.90" y="795.80" width="21.00" height="5.20" rx="2.60" fill="#000" opacity="0.97" filter="url(#f1)"/>
<rect x="478.45" y="794.60" width="21.50" height="7.60" rx="3.80" fill="#000" opacity="0.291" filter="url(#f15)"/>
<rect x="478.70" y="795.80" width="21.00" height="5.20" rx="2.60" fill="#000" opacity="0.97" filter="url(#f1)"/>
<rect x="500.75" y="794.60" width="21.50" height="7.60" rx="3.80" fill="#000" opacity="0.291" filter="url(#f15)"/>
<rect x="501.00" y="795.80" width="21.00" height="5.20" rx="2.60" fill="#000" opacity="0.97" filter="url(#f1)"/>
</g>
<rect x="430.30" y="787.10" width="94.70" height="24.20" fill="none" stroke="#111" stroke-width="1.3"/>
<line x1="525.00" y1="766.70" x2="530.50" y2="766.70" stroke="#111" stroke-width="1.25"/>
<text x="531.70" y="769.80" font-size="8.6" fill="#1a1a1a">50</text>
<line x1="525.00" y1="807.80" x2="530.50" y2="807.80" stroke="#111" stroke-width="1.25"/>
<text x="531.70" y="810.90" font-size="8.6" fill="#1a1a1a">37</text>
<text x="535.70" y="669.10" font-size="15.8" font-weight="bold" fill="#111">L</text>
<text x="593.80" y="676.40" font-size="11.3" font-weight="bold" text-anchor="middle" fill="#111">H1792</text>
<text x="593.80" y="690.20" font-size="11.3" font-weight="bold" text-anchor="middle" fill="#111">-TR</text>
<text x="638.60" y="676.40" font-size="11.3" font-weight="bold" text-anchor="middle" fill="#111">H2009</text>
<text x="638.60" y="690.20" font-size="11.3" font-weight="bold" text-anchor="middle" fill="#111">-TR</text>
<line x1="579.90" y1="694.00" x2="609.90" y2="694.00" stroke="#111" stroke-width="1.1"/>
<line x1="624.80" y1="694.00" x2="654.30" y2="694.00" stroke="#111" stroke-width="1.1"/>
<text x="586.40" y="747.50" font-size="9.0" fill="#1a1a1a" transform="rotate(-90 586.40 747.50)">Tram</text>
<text x="610.50" y="747.50" font-size="9.0" fill="#1a1a1a" transform="rotate(-90 610.50 747.50)">Tram-Mido</text>
<text x="632.80" y="747.50" font-size="9.0" fill="#1a1a1a" transform="rotate(-90 632.80 747.50)">Tram</text>
<text x="657.50" y="747.50" font-size="9.0" fill="#1a1a1a" transform="rotate(-90 657.50 747.50)">Tram-Mido</text>
<text x="666.80" y="747.20" font-size="8.6" fill="#1a1a1a">KDa</text>
<text x="582.00" y="758.90" font-size="7.7" text-anchor="middle" fill="#1a1a1a">1</text>
<text x="605.50" y="758.90" font-size="7.7" text-anchor="middle" fill="#1a1a1a">0.5</text>
<text x="628.00" y="758.90" font-size="7.7" text-anchor="middle" fill="#1a1a1a">1</text>
<text x="653.20" y="758.90" font-size="7.7" text-anchor="middle" fill="#1a1a1a">0.3</text>
<text x="568.00" y="776.80" font-size="9.3" text-anchor="end" fill="#1a1a1a">MYC</text>
<text x="568.00" y="798.20" font-size="9.3" text-anchor="end" fill="#1a1a1a">ACTIN</text>
<clipPath id="c21"><rect x="570.20" y="760.20" width="95.60" height="23.10"/></clipPath>
<rect x="570.20" y="760.20" width="95.60" height="23.10" fill="#e0e0e0" stroke="none" stroke-width="1"/>
<g clip-path="url(#c21)">
<rect x="572.00" y="766.00" width="92.00" height="13.00" rx="6.50" fill="#000" opacity="0.1" filter="url(#f3)"/>
<rect x="572.25" y="770.30" width="27.50" height="7.00" rx="3.50" fill="#000" opacity="0.23399999999999999" filter="url(#f15)" transform="rotate(3 586.00 773.80)"/>
<rect x="572.50" y="771.50" width="27.00" height="4.60" rx="2.30" fill="#000" opacity="0.78" filter="url(#f1)" transform="rotate(3 586.00 773.80)"/>
<rect x="573.00" y="768.80" width="28.00" height="10.00" rx="5.00" fill="#000" opacity="0.24" filter="url(#f2)"/>
<rect x="599.25" y="769.40" width="17.50" height="6.40" rx="3.20" fill="#000" opacity="0.15" filter="url(#f15)" transform="rotate(-5 608.00 772.60)"/>
<rect x="599.50" y="770.60" width="17.00" height="4.00" rx="2.00" fill="#000" opacity="0.5" filter="url(#f1)" transform="rotate(-5 608.00 772.60)"/>
<rect x="598.50" y="768.10" width="19.00" height="9.00" rx="4.50" fill="#000" opacity="0.14" filter="url(#f2)"/>
<rect x="617.25" y="768.80" width="21.50" height="7.60" rx="3.80" fill="#000" opacity="0.285" filter="url(#f15)"/>
<rect x="617.50" y="770.00" width="21.00" height="5.20" rx="2.60" fill="#000" opacity="0.95" filter="url(#f1)"/>
<rect x="616.50" y="767.10" width="23.00" height="11.00" rx="5.50" fill="#000" opacity="0.28" filter="url(#f2)"/>
<rect x="641.75" y="767.90" width="19.50" height="6.20" rx="3.10" fill="#000" opacity="0.126" filter="url(#f15)" transform="rotate(-12 651.50 771.00)"/>
<rect x="642.00" y="769.10" width="19.00" height="3.80" rx="1.90" fill="#000" opacity="0.42" filter="url(#f1)" transform="rotate(-12 651.50 771.00)"/>
<rect x="650.50" y="768.10" width="9.00" height="3.40" rx="1.70" fill="#000" opacity="0.4" filter="url(#f1)"/>
<rect x="642.00" y="767.00" width="20.00" height="8.00" rx="4.00" fill="#000" opacity="0.12" filter="url(#f2)"/>
</g>
<rect x="570.20" y="760.20" width="95.60" height="23.10" fill="none" stroke="#111" stroke-width="1.3"/>
<clipPath id="c22"><rect x="570.20" y="786.70" width="95.60" height="23.60"/></clipPath>
<rect x="570.20" y="786.70" width="95.60" height="23.60" fill="#e4e4e4" stroke="none" stroke-width="1"/>
<g clip-path="url(#c22)">
<rect x="573.75" y="794.30" width="21.50" height="7.00" rx="3.50" fill="#000" opacity="0.291" filter="url(#f15)"/>
<rect x="574.00" y="795.50" width="21.00" height="4.60" rx="2.30" fill="#000" opacity="0.97" filter="url(#f1)"/>
<rect x="595.75" y="794.40" width="21.50" height="8.00" rx="4.00" fill="#000" opacity="0.291" filter="url(#f15)"/>
<rect x="596.00" y="795.60" width="21.00" height="5.60" rx="2.80" fill="#000" opacity="0.97" filter="url(#f1)"/>
<rect x="617.25" y="795.30" width="21.50" height="6.60" rx="3.30" fill="#000" opacity="0.291" filter="url(#f15)"/>
<rect x="617.50" y="796.50" width="21.00" height="4.20" rx="2.10" fill="#000" opacity="0.97" filter="url(#f1)"/>
<rect x="640.25" y="793.70" width="21.50" height="7.80" rx="3.90" fill="#000" opacity="0.291" filter="url(#f15)"/>
<rect x="640.50" y="794.90" width="21.00" height="5.40" rx="2.70" fill="#000" opacity="0.97" filter="url(#f1)"/>
</g>
<rect x="570.20" y="786.70" width="95.60" height="23.60" fill="none" stroke="#111" stroke-width="1.3"/>
<line x1="665.80" y1="764.00" x2="671.30" y2="764.00" stroke="#111" stroke-width="1.25"/>
<text x="672.50" y="767.10" font-size="8.6" fill="#1a1a1a">50</text>
<line x1="665.80" y1="805.20" x2="671.30" y2="805.20" stroke="#111" stroke-width="1.25"/>
<text x="672.50" y="808.30" font-size="8.6" fill="#1a1a1a">37</text>
</svg>
</body></html>
